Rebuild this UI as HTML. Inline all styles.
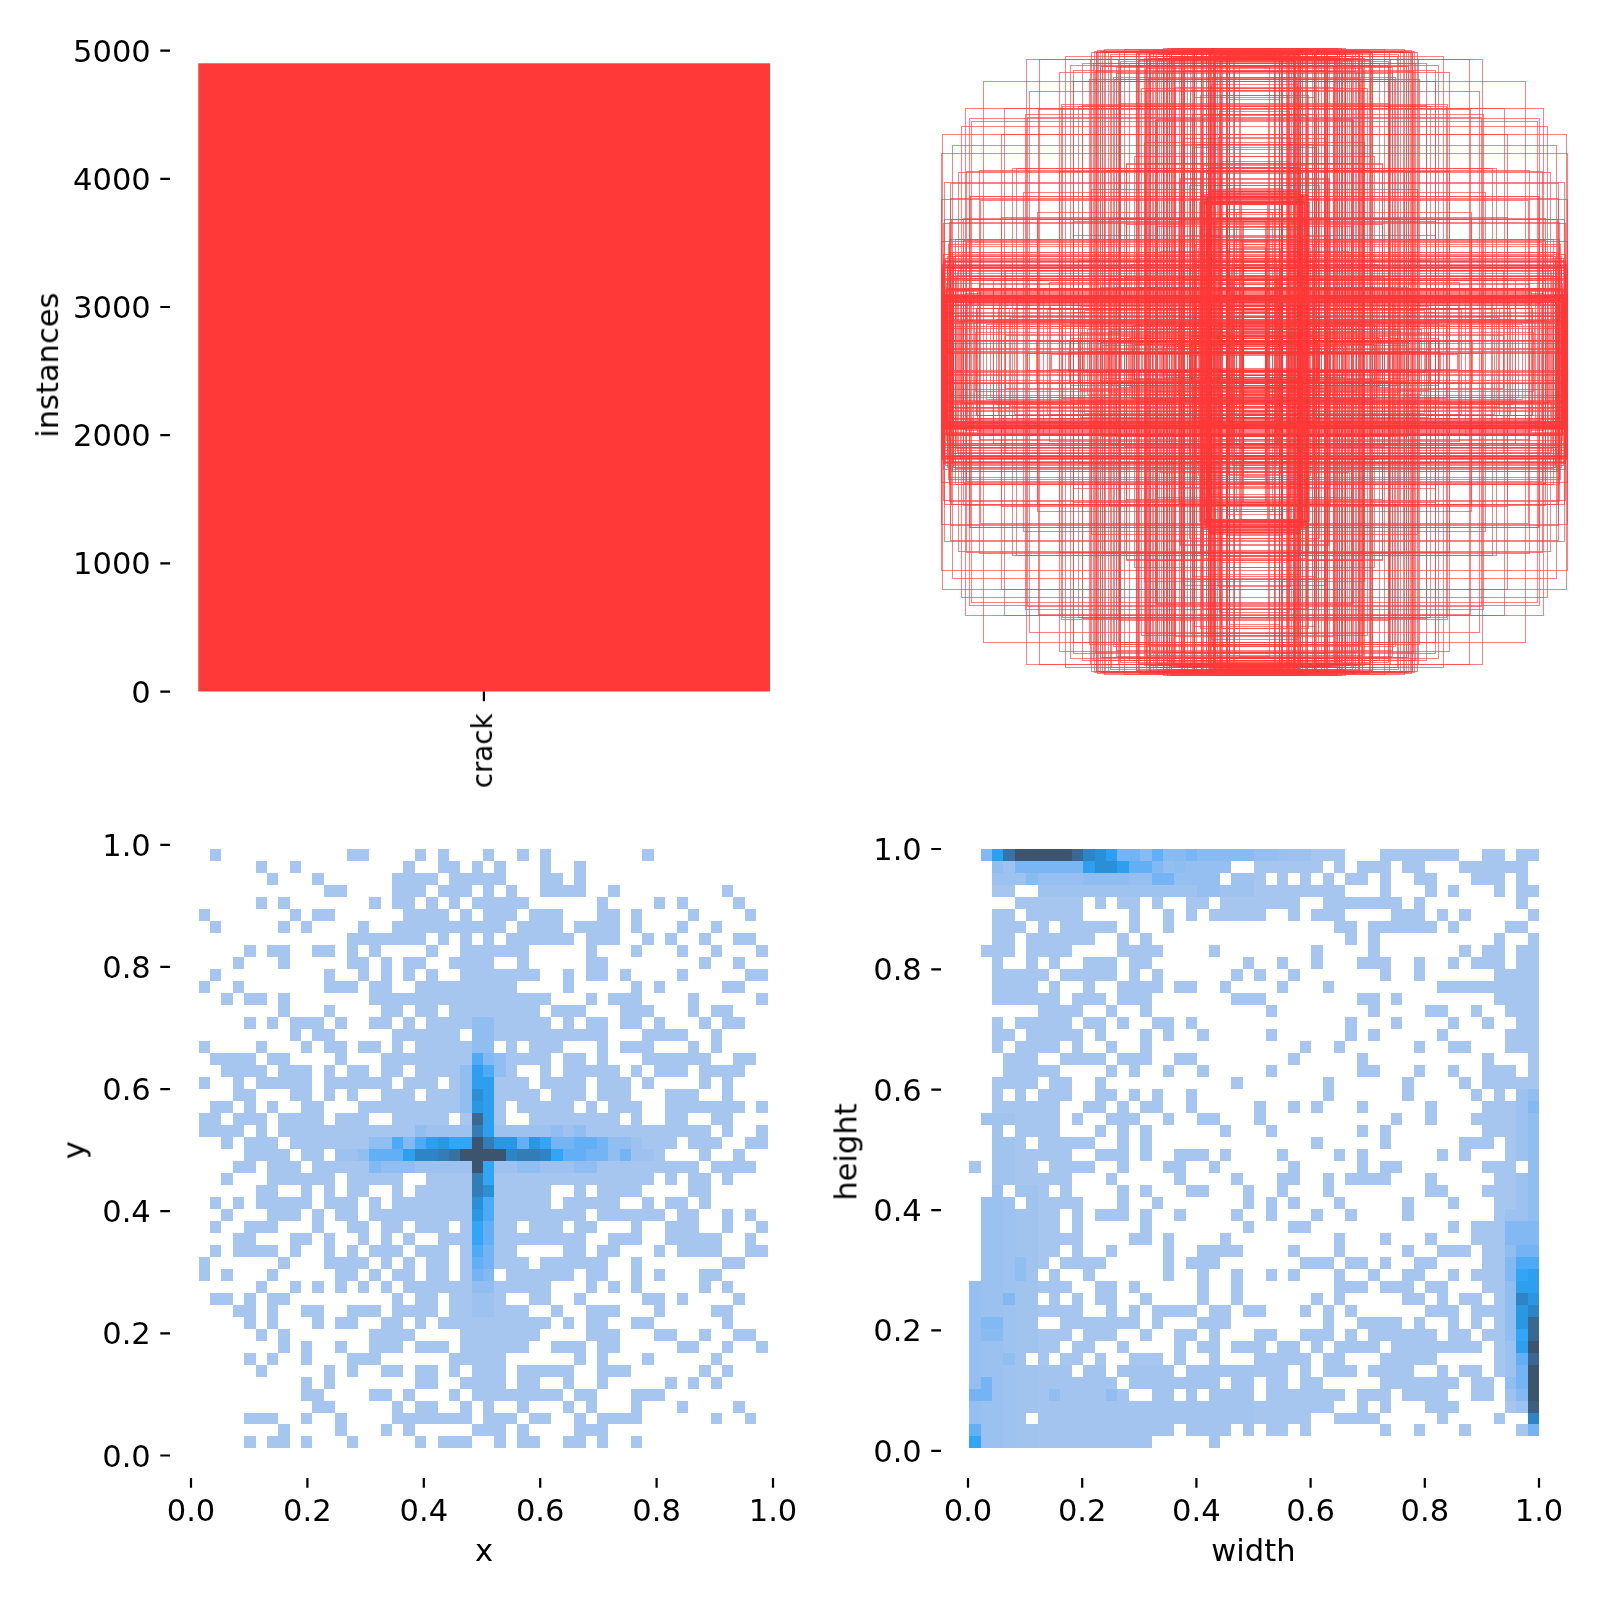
<!DOCTYPE html>
<html lang="en"><head><meta charset="utf-8"><title>labels</title>
<style>
html,body{margin:0;padding:0;background:#fff;}
svg{display:block;}
text{font-family:"DejaVu Sans","Liberation Sans",sans-serif;font-size:30.56px;fill:#000;}
</style></head><body>
<svg width="1600" height="1600" viewBox="0 0 1600 1600">
<rect x="0" y="0" width="1600" height="1600" fill="#ffffff"/>
<rect x="198.3" y="63.3" width="571.7" height="628.2" fill="#ff3838"/>
<g opacity="0.999"><text x="150.80" y="702.60" text-anchor="end">0</text>
<text x="150.80" y="574.40" text-anchor="end">1000</text>
<text x="150.80" y="446.20" text-anchor="end">2000</text>
<text x="150.80" y="318.00" text-anchor="end">3000</text>
<text x="150.80" y="189.80" text-anchor="end">4000</text>
<text x="150.80" y="61.60" text-anchor="end">5000</text>
<text x="58.30" y="365.20" text-anchor="middle" transform="rotate(-90 58.30 365.20)">instances</text>
<text x="491.90" y="750.80" text-anchor="middle" transform="rotate(-90 491.90 750.80)" style="font-size:27.78px">crack</text>
<text x="150.80" y="1466.60" text-anchor="end">0.0</text>
<text x="191.00" y="1520.80" text-anchor="middle">0.0</text>
<text x="150.80" y="1344.46" text-anchor="end">0.2</text>
<text x="307.40" y="1520.80" text-anchor="middle">0.2</text>
<text x="150.80" y="1222.32" text-anchor="end">0.4</text>
<text x="423.80" y="1520.80" text-anchor="middle">0.4</text>
<text x="150.80" y="1100.18" text-anchor="end">0.6</text>
<text x="540.20" y="1520.80" text-anchor="middle">0.6</text>
<text x="150.80" y="978.04" text-anchor="end">0.8</text>
<text x="656.60" y="1520.80" text-anchor="middle">0.8</text>
<text x="150.80" y="855.90" text-anchor="end">1.0</text>
<text x="773.00" y="1520.80" text-anchor="middle">1.0</text>
<text x="484.00" y="1560.60" text-anchor="middle">x</text>
<text x="84.60" y="1150.10" text-anchor="middle" transform="rotate(-90 84.60 1150.10)">y</text>
<text x="921.80" y="1461.80" text-anchor="end">0.0</text>
<text x="968.00" y="1520.80" text-anchor="middle">0.0</text>
<text x="921.80" y="1341.44" text-anchor="end">0.2</text>
<text x="1082.20" y="1520.80" text-anchor="middle">0.2</text>
<text x="921.80" y="1221.08" text-anchor="end">0.4</text>
<text x="1196.40" y="1520.80" text-anchor="middle">0.4</text>
<text x="921.80" y="1100.72" text-anchor="end">0.6</text>
<text x="1310.60" y="1520.80" text-anchor="middle">0.6</text>
<text x="921.80" y="980.36" text-anchor="end">0.8</text>
<text x="1424.80" y="1520.80" text-anchor="middle">0.8</text>
<text x="921.80" y="860.00" text-anchor="end">1.0</text>
<text x="1539.00" y="1520.80" text-anchor="middle">1.0</text>
<text x="1253.40" y="1560.80" text-anchor="middle">width</text>
<text x="856.40" y="1152.00" text-anchor="middle" transform="rotate(-90 856.40 1152.00)">height</text></g>
<path d="M160.3 691.60H170M160.3 563.40H170M160.3 435.20H170M160.3 307.00H170M160.3 178.80H170M160.3 50.60H170M483.9 691.5V701.2M160.3 1455.50H170M191.00 1478V1487.8M160.3 1333.36H170M307.40 1478V1487.8M160.3 1211.22H170M423.80 1478V1487.8M160.3 1089.08H170M540.20 1478V1487.8M160.3 966.94H170M656.60 1478V1487.8M160.3 844.80H170M773.00 1478V1487.8M931.3 1450.80H941M968.00 1478V1487.8M931.3 1330.44H941M1082.20 1478V1487.8M931.3 1210.08H941M1196.40 1478V1487.8M931.3 1089.72H941M1310.60 1478V1487.8M931.3 969.36H941M1424.80 1478V1487.8M931.3 849.00H941M1539.00 1478V1487.8" stroke="#000" stroke-width="2.2" fill="none"/>
<g shape-rendering="crispEdges">
<path fill="#a6c6ef" d="M209.98 849.45H221.36V861.43H209.98ZM346.54 849.45H369.30V861.43H346.54ZM414.82 849.45H426.20V861.43H414.82ZM437.58 849.45H448.96V861.43H437.58ZM483.10 849.45H494.48V861.43H483.10ZM517.24 849.45H528.62V861.43H517.24ZM540.00 849.45H551.38V861.43H540.00ZM642.42 849.45H653.80V861.43H642.42ZM255.50 861.43H266.88V873.41H255.50ZM289.64 861.43H301.02V873.41H289.64ZM403.44 861.43H414.82V873.41H403.44ZM437.58 861.43H460.34V873.41H437.58ZM471.72 861.43H483.10V873.41H471.72ZM494.48 861.43H505.86V873.41H494.48ZM540.00 861.43H551.38V873.41H540.00ZM574.14 861.43H585.52V873.41H574.14ZM266.88 873.41H278.26V885.39H266.88ZM312.40 873.41H323.78V885.39H312.40ZM392.06 873.41H437.58V885.39H392.06ZM448.96 873.41H505.86V885.39H448.96ZM540.00 873.41H562.76V885.39H540.00ZM574.14 873.41H585.52V885.39H574.14ZM323.78 885.39H346.54V897.37H323.78ZM392.06 885.39H426.20V897.37H392.06ZM437.58 885.39H471.72V897.37H437.58ZM483.10 885.39H494.48V897.37H483.10ZM505.86 885.39H517.24V897.37H505.86ZM540.00 885.39H585.52V897.37H540.00ZM608.28 885.39H619.66V897.37H608.28ZM722.08 885.39H733.46V897.37H722.08ZM255.50 897.37H266.88V909.35H255.50ZM278.26 897.37H289.64V909.35H278.26ZM369.30 897.37H380.68V909.35H369.30ZM392.06 897.37H414.82V909.35H392.06ZM426.20 897.37H437.58V909.35H426.20ZM448.96 897.37H460.34V909.35H448.96ZM471.72 897.37H528.62V909.35H471.72ZM596.90 897.37H608.28V909.35H596.90ZM653.80 897.37H665.18V909.35H653.80ZM676.56 897.37H687.94V909.35H676.56ZM733.46 897.37H744.84V909.35H733.46ZM198.60 909.35H209.98V921.33H198.60ZM289.64 909.35H301.02V921.33H289.64ZM312.40 909.35H335.16V921.33H312.40ZM403.44 909.35H448.96V921.33H403.44ZM460.34 909.35H471.72V921.33H460.34ZM483.10 909.35H517.24V921.33H483.10ZM528.62 909.35H562.76V921.33H528.62ZM596.90 909.35H619.66V921.33H596.90ZM631.04 909.35H642.42V921.33H631.04ZM687.94 909.35H699.32V921.33H687.94ZM744.84 909.35H756.22V921.33H744.84ZM209.98 921.33H221.36V933.31H209.98ZM278.26 921.33H289.64V933.31H278.26ZM301.02 921.33H312.40V933.31H301.02ZM357.92 921.33H369.30V933.31H357.92ZM392.06 921.33H505.86V933.31H392.06ZM517.24 921.33H562.76V933.31H517.24ZM574.14 921.33H619.66V933.31H574.14ZM631.04 921.33H642.42V933.31H631.04ZM676.56 921.33H687.94V933.31H676.56ZM710.70 921.33H722.08V933.31H710.70ZM346.54 933.31H426.20V945.29H346.54ZM437.58 933.31H448.96V945.29H437.58ZM460.34 933.31H471.72V945.29H460.34ZM483.10 933.31H494.48V945.29H483.10ZM505.86 933.31H574.14V945.29H505.86ZM585.52 933.31H619.66V945.29H585.52ZM642.42 933.31H653.80V945.29H642.42ZM665.18 933.31H676.56V945.29H665.18ZM699.32 933.31H710.70V945.29H699.32ZM733.46 933.31H756.22V945.29H733.46ZM244.12 945.29H255.50V957.27H244.12ZM266.88 945.29H289.64V957.27H266.88ZM312.40 945.29H335.16V957.27H312.40ZM346.54 945.29H357.92V957.27H346.54ZM369.30 945.29H380.68V957.27H369.30ZM426.20 945.29H437.58V957.27H426.20ZM460.34 945.29H528.62V957.27H460.34ZM585.52 945.29H596.90V957.27H585.52ZM631.04 945.29H642.42V957.27H631.04ZM676.56 945.29H687.94V957.27H676.56ZM710.70 945.29H722.08V957.27H710.70ZM756.22 945.29H767.60V957.27H756.22ZM232.74 957.27H244.12V969.25H232.74ZM278.26 957.27H289.64V969.25H278.26ZM346.54 957.27H369.30V969.25H346.54ZM380.68 957.27H392.06V969.25H380.68ZM403.44 957.27H426.20V969.25H403.44ZM448.96 957.27H494.48V969.25H448.96ZM517.24 957.27H528.62V969.25H517.24ZM585.52 957.27H608.28V969.25H585.52ZM699.32 957.27H710.70V969.25H699.32ZM733.46 957.27H744.84V969.25H733.46ZM209.98 969.25H221.36V981.23H209.98ZM323.78 969.25H335.16V981.23H323.78ZM357.92 969.25H369.30V981.23H357.92ZM380.68 969.25H392.06V981.23H380.68ZM403.44 969.25H414.82V981.23H403.44ZM426.20 969.25H437.58V981.23H426.20ZM460.34 969.25H540.00V981.23H460.34ZM562.76 969.25H574.14V981.23H562.76ZM585.52 969.25H608.28V981.23H585.52ZM619.66 969.25H631.04V981.23H619.66ZM676.56 969.25H687.94V981.23H676.56ZM744.84 969.25H767.60V981.23H744.84ZM198.60 981.23H209.98V993.21H198.60ZM232.74 981.23H244.12V993.21H232.74ZM323.78 981.23H357.92V993.21H323.78ZM369.30 981.23H392.06V993.21H369.30ZM414.82 981.23H517.24V993.21H414.82ZM562.76 981.23H574.14V993.21H562.76ZM631.04 981.23H642.42V993.21H631.04ZM653.80 981.23H665.18V993.21H653.80ZM722.08 981.23H744.84V993.21H722.08ZM221.36 993.21H232.74V1005.19H221.36ZM244.12 993.21H266.88V1005.19H244.12ZM278.26 993.21H289.64V1005.19H278.26ZM369.30 993.21H551.38V1005.19H369.30ZM585.52 993.21H596.90V1005.19H585.52ZM608.28 993.21H642.42V1005.19H608.28ZM687.94 993.21H699.32V1005.19H687.94ZM756.22 993.21H767.60V1005.19H756.22ZM278.26 1005.19H289.64V1017.17H278.26ZM323.78 1005.19H335.16V1017.17H323.78ZM380.68 1005.19H403.44V1017.17H380.68ZM414.82 1005.19H437.58V1017.17H414.82ZM448.96 1005.19H540.00V1017.17H448.96ZM551.38 1005.19H585.52V1017.17H551.38ZM619.66 1005.19H653.80V1017.17H619.66ZM687.94 1005.19H699.32V1017.17H687.94ZM710.70 1005.19H733.46V1017.17H710.70ZM244.12 1017.17H255.50V1029.15H244.12ZM266.88 1017.17H278.26V1029.15H266.88ZM289.64 1017.17H323.78V1029.15H289.64ZM335.16 1017.17H346.54V1029.15H335.16ZM369.30 1017.17H392.06V1029.15H369.30ZM403.44 1017.17H414.82V1029.15H403.44ZM426.20 1017.17H471.72V1029.15H426.20ZM494.48 1017.17H551.38V1029.15H494.48ZM562.76 1017.17H574.14V1029.15H562.76ZM585.52 1017.17H608.28V1029.15H585.52ZM619.66 1017.17H642.42V1029.15H619.66ZM653.80 1017.17H665.18V1029.15H653.80ZM699.32 1017.17H710.70V1029.15H699.32ZM722.08 1017.17H744.84V1029.15H722.08ZM289.64 1029.15H301.02V1041.13H289.64ZM312.40 1029.15H335.16V1041.13H312.40ZM392.06 1029.15H460.34V1041.13H392.06ZM494.48 1029.15H608.28V1041.13H494.48ZM642.42 1029.15H687.94V1041.13H642.42ZM710.70 1029.15H722.08V1041.13H710.70ZM198.60 1041.13H209.98V1053.11H198.60ZM255.50 1041.13H266.88V1053.11H255.50ZM301.02 1041.13H312.40V1053.11H301.02ZM323.78 1041.13H346.54V1053.11H323.78ZM357.92 1041.13H380.68V1053.11H357.92ZM392.06 1041.13H403.44V1053.11H392.06ZM414.82 1041.13H471.72V1053.11H414.82ZM505.86 1041.13H517.24V1053.11H505.86ZM528.62 1041.13H562.76V1053.11H528.62ZM596.90 1041.13H608.28V1053.11H596.90ZM619.66 1041.13H653.80V1053.11H619.66ZM687.94 1041.13H699.32V1053.11H687.94ZM710.70 1041.13H722.08V1053.11H710.70ZM209.98 1053.11H255.50V1065.09H209.98ZM266.88 1053.11H289.64V1065.09H266.88ZM335.16 1053.11H346.54V1065.09H335.16ZM380.68 1053.11H471.72V1065.09H380.68ZM505.86 1053.11H551.38V1065.09H505.86ZM562.76 1053.11H585.52V1065.09H562.76ZM596.90 1053.11H608.28V1065.09H596.90ZM642.42 1053.11H710.70V1065.09H642.42ZM733.46 1053.11H756.22V1065.09H733.46ZM221.36 1065.09H266.88V1077.07H221.36ZM278.26 1065.09H312.40V1077.07H278.26ZM323.78 1065.09H335.16V1077.07H323.78ZM346.54 1065.09H369.30V1077.07H346.54ZM380.68 1065.09H403.44V1077.07H380.68ZM414.82 1065.09H460.34V1077.07H414.82ZM505.86 1065.09H517.24V1077.07H505.86ZM540.00 1065.09H551.38V1077.07H540.00ZM562.76 1065.09H619.66V1077.07H562.76ZM631.04 1065.09H642.42V1077.07H631.04ZM653.80 1065.09H687.94V1077.07H653.80ZM699.32 1065.09H744.84V1077.07H699.32ZM198.60 1077.07H209.98V1089.05H198.60ZM232.74 1077.07H244.12V1089.05H232.74ZM255.50 1077.07H312.40V1089.05H255.50ZM323.78 1077.07H392.06V1089.05H323.78ZM403.44 1077.07H437.58V1089.05H403.44ZM448.96 1077.07H460.34V1089.05H448.96ZM494.48 1077.07H528.62V1089.05H494.48ZM540.00 1077.07H585.52V1089.05H540.00ZM596.90 1077.07H631.04V1089.05H596.90ZM642.42 1077.07H653.80V1089.05H642.42ZM699.32 1077.07H710.70V1089.05H699.32ZM722.08 1077.07H733.46V1089.05H722.08ZM232.74 1089.05H255.50V1101.03H232.74ZM289.64 1089.05H312.40V1101.03H289.64ZM323.78 1089.05H335.16V1101.03H323.78ZM346.54 1089.05H357.92V1101.03H346.54ZM380.68 1089.05H414.82V1101.03H380.68ZM426.20 1089.05H460.34V1101.03H426.20ZM494.48 1089.05H540.00V1101.03H494.48ZM551.38 1089.05H585.52V1101.03H551.38ZM596.90 1089.05H631.04V1101.03H596.90ZM665.18 1089.05H699.32V1101.03H665.18ZM722.08 1089.05H733.46V1101.03H722.08ZM209.98 1101.03H232.74V1113.01H209.98ZM244.12 1101.03H255.50V1113.01H244.12ZM266.88 1101.03H278.26V1113.01H266.88ZM301.02 1101.03H323.78V1113.01H301.02ZM357.92 1101.03H460.34V1113.01H357.92ZM494.48 1101.03H505.86V1113.01H494.48ZM517.24 1101.03H574.14V1113.01H517.24ZM585.52 1101.03H596.90V1113.01H585.52ZM608.28 1101.03H642.42V1113.01H608.28ZM665.18 1101.03H744.84V1113.01H665.18ZM756.22 1101.03H767.60V1113.01H756.22ZM198.60 1113.01H221.36V1124.99H198.60ZM232.74 1113.01H266.88V1124.99H232.74ZM278.26 1113.01H323.78V1124.99H278.26ZM335.16 1113.01H369.30V1124.99H335.16ZM392.06 1113.01H448.96V1124.99H392.06ZM460.34 1113.01H471.72V1124.99H460.34ZM494.48 1113.01H505.86V1124.99H494.48ZM528.62 1113.01H619.66V1124.99H528.62ZM631.04 1113.01H642.42V1124.99H631.04ZM665.18 1113.01H687.94V1124.99H665.18ZM710.70 1113.01H733.46V1124.99H710.70ZM198.60 1124.99H244.12V1136.97H198.60ZM255.50 1124.99H266.88V1136.97H255.50ZM278.26 1124.99H414.82V1136.97H278.26ZM585.52 1124.99H710.70V1136.97H585.52ZM722.08 1124.99H733.46V1136.97H722.08ZM756.22 1124.99H767.60V1136.97H756.22ZM221.36 1136.97H232.74V1148.95H221.36ZM244.12 1136.97H278.26V1148.95H244.12ZM289.64 1136.97H369.30V1148.95H289.64ZM642.42 1136.97H676.56V1148.95H642.42ZM687.94 1136.97H722.08V1148.95H687.94ZM744.84 1136.97H767.60V1148.95H744.84ZM244.12 1148.95H289.64V1160.93H244.12ZM301.02 1148.95H323.78V1160.93H301.02ZM653.80 1148.95H665.18V1160.93H653.80ZM699.32 1148.95H710.70V1160.93H699.32ZM733.46 1148.95H744.84V1160.93H733.46ZM232.74 1160.93H255.50V1172.91H232.74ZM266.88 1160.93H301.02V1172.91H266.88ZM312.40 1160.93H369.30V1172.91H312.40ZM596.90 1160.93H699.32V1172.91H596.90ZM710.70 1160.93H756.22V1172.91H710.70ZM221.36 1172.91H232.74V1184.89H221.36ZM266.88 1172.91H335.16V1184.89H266.88ZM346.54 1172.91H403.44V1184.89H346.54ZM426.20 1172.91H471.72V1184.89H426.20ZM494.48 1172.91H653.80V1184.89H494.48ZM665.18 1172.91H676.56V1184.89H665.18ZM687.94 1172.91H710.70V1184.89H687.94ZM722.08 1172.91H733.46V1184.89H722.08ZM255.50 1184.89H278.26V1196.87H255.50ZM301.02 1184.89H312.40V1196.87H301.02ZM323.78 1184.89H335.16V1196.87H323.78ZM346.54 1184.89H369.30V1196.87H346.54ZM392.06 1184.89H403.44V1196.87H392.06ZM414.82 1184.89H471.72V1196.87H414.82ZM494.48 1184.89H551.38V1196.87H494.48ZM574.14 1184.89H585.52V1196.87H574.14ZM596.90 1184.89H642.42V1196.87H596.90ZM687.94 1184.89H710.70V1196.87H687.94ZM209.98 1196.87H221.36V1208.85H209.98ZM232.74 1196.87H244.12V1208.85H232.74ZM255.50 1196.87H312.40V1208.85H255.50ZM323.78 1196.87H357.92V1208.85H323.78ZM369.30 1196.87H380.68V1208.85H369.30ZM392.06 1196.87H471.72V1208.85H392.06ZM494.48 1196.87H551.38V1208.85H494.48ZM562.76 1196.87H619.66V1208.85H562.76ZM642.42 1196.87H653.80V1208.85H642.42ZM665.18 1196.87H687.94V1208.85H665.18ZM699.32 1196.87H710.70V1208.85H699.32ZM221.36 1208.85H232.74V1220.83H221.36ZM266.88 1208.85H301.02V1220.83H266.88ZM312.40 1208.85H323.78V1220.83H312.40ZM335.16 1208.85H357.92V1220.83H335.16ZM369.30 1208.85H471.72V1220.83H369.30ZM494.48 1208.85H585.52V1220.83H494.48ZM596.90 1208.85H665.18V1220.83H596.90ZM676.56 1208.85H699.32V1220.83H676.56ZM722.08 1208.85H733.46V1220.83H722.08ZM744.84 1208.85H756.22V1220.83H744.84ZM209.98 1220.83H221.36V1232.81H209.98ZM244.12 1220.83H278.26V1232.81H244.12ZM312.40 1220.83H323.78V1232.81H312.40ZM346.54 1220.83H369.30V1232.81H346.54ZM380.68 1220.83H403.44V1232.81H380.68ZM414.82 1220.83H448.96V1232.81H414.82ZM460.34 1220.83H471.72V1232.81H460.34ZM494.48 1220.83H517.24V1232.81H494.48ZM528.62 1220.83H562.76V1232.81H528.62ZM574.14 1220.83H596.90V1232.81H574.14ZM631.04 1220.83H642.42V1232.81H631.04ZM665.18 1220.83H699.32V1232.81H665.18ZM722.08 1220.83H733.46V1232.81H722.08ZM756.22 1220.83H767.60V1232.81H756.22ZM232.74 1232.81H255.50V1244.79H232.74ZM289.64 1232.81H312.40V1244.79H289.64ZM323.78 1232.81H335.16V1244.79H323.78ZM357.92 1232.81H369.30V1244.79H357.92ZM380.68 1232.81H392.06V1244.79H380.68ZM403.44 1232.81H414.82V1244.79H403.44ZM437.58 1232.81H471.72V1244.79H437.58ZM494.48 1232.81H585.52V1244.79H494.48ZM608.28 1232.81H642.42V1244.79H608.28ZM665.18 1232.81H722.08V1244.79H665.18ZM744.84 1232.81H756.22V1244.79H744.84ZM209.98 1244.79H221.36V1256.77H209.98ZM232.74 1244.79H278.26V1256.77H232.74ZM289.64 1244.79H301.02V1256.77H289.64ZM323.78 1244.79H335.16V1256.77H323.78ZM346.54 1244.79H357.92V1256.77H346.54ZM369.30 1244.79H403.44V1256.77H369.30ZM414.82 1244.79H448.96V1256.77H414.82ZM460.34 1244.79H471.72V1256.77H460.34ZM494.48 1244.79H517.24V1256.77H494.48ZM562.76 1244.79H585.52V1256.77H562.76ZM596.90 1244.79H619.66V1256.77H596.90ZM653.80 1244.79H665.18V1256.77H653.80ZM676.56 1244.79H722.08V1256.77H676.56ZM744.84 1244.79H767.60V1256.77H744.84ZM198.60 1256.77H209.98V1268.75H198.60ZM278.26 1256.77H289.64V1268.75H278.26ZM323.78 1256.77H369.30V1268.75H323.78ZM380.68 1256.77H392.06V1268.75H380.68ZM403.44 1256.77H414.82V1268.75H403.44ZM426.20 1256.77H448.96V1268.75H426.20ZM460.34 1256.77H471.72V1268.75H460.34ZM494.48 1256.77H528.62V1268.75H494.48ZM540.00 1256.77H608.28V1268.75H540.00ZM631.04 1256.77H642.42V1268.75H631.04ZM722.08 1256.77H744.84V1268.75H722.08ZM198.60 1268.75H209.98V1280.73H198.60ZM221.36 1268.75H232.74V1280.73H221.36ZM266.88 1268.75H278.26V1280.73H266.88ZM335.16 1268.75H357.92V1280.73H335.16ZM369.30 1268.75H380.68V1280.73H369.30ZM392.06 1268.75H414.82V1280.73H392.06ZM426.20 1268.75H448.96V1280.73H426.20ZM460.34 1268.75H471.72V1280.73H460.34ZM505.86 1268.75H574.14V1280.73H505.86ZM585.52 1268.75H608.28V1280.73H585.52ZM631.04 1268.75H642.42V1280.73H631.04ZM653.80 1268.75H665.18V1280.73H653.80ZM699.32 1268.75H722.08V1280.73H699.32ZM255.50 1280.73H266.88V1292.71H255.50ZM289.64 1280.73H301.02V1292.71H289.64ZM312.40 1280.73H323.78V1292.71H312.40ZM335.16 1280.73H346.54V1292.71H335.16ZM357.92 1280.73H369.30V1292.71H357.92ZM380.68 1280.73H392.06V1292.71H380.68ZM403.44 1280.73H471.72V1292.71H403.44ZM494.48 1280.73H551.38V1292.71H494.48ZM585.52 1280.73H596.90V1292.71H585.52ZM608.28 1280.73H619.66V1292.71H608.28ZM631.04 1280.73H642.42V1292.71H631.04ZM699.32 1280.73H710.70V1292.71H699.32ZM722.08 1280.73H733.46V1292.71H722.08ZM209.98 1292.71H232.74V1304.69H209.98ZM244.12 1292.71H255.50V1304.69H244.12ZM266.88 1292.71H289.64V1304.69H266.88ZM392.06 1292.71H403.44V1304.69H392.06ZM414.82 1292.71H437.58V1304.69H414.82ZM448.96 1292.71H471.72V1304.69H448.96ZM494.48 1292.71H505.86V1304.69H494.48ZM528.62 1292.71H551.38V1304.69H528.62ZM574.14 1292.71H585.52V1304.69H574.14ZM642.42 1292.71H665.18V1304.69H642.42ZM676.56 1292.71H687.94V1304.69H676.56ZM733.46 1292.71H744.84V1304.69H733.46ZM232.74 1304.69H255.50V1316.67H232.74ZM266.88 1304.69H278.26V1316.67H266.88ZM301.02 1304.69H323.78V1316.67H301.02ZM346.54 1304.69H380.68V1316.67H346.54ZM392.06 1304.69H437.58V1316.67H392.06ZM448.96 1304.69H471.72V1316.67H448.96ZM494.48 1304.69H528.62V1316.67H494.48ZM551.38 1304.69H562.76V1316.67H551.38ZM585.52 1304.69H619.66V1316.67H585.52ZM653.80 1304.69H665.18V1316.67H653.80ZM710.70 1304.69H733.46V1316.67H710.70ZM244.12 1316.67H255.50V1328.65H244.12ZM266.88 1316.67H278.26V1328.65H266.88ZM312.40 1316.67H323.78V1328.65H312.40ZM335.16 1316.67H357.92V1328.65H335.16ZM380.68 1316.67H403.44V1328.65H380.68ZM414.82 1316.67H426.20V1328.65H414.82ZM437.58 1316.67H551.38V1328.65H437.58ZM562.76 1316.67H574.14V1328.65H562.76ZM585.52 1316.67H608.28V1328.65H585.52ZM631.04 1316.67H653.80V1328.65H631.04ZM722.08 1316.67H733.46V1328.65H722.08ZM255.50 1328.65H266.88V1340.63H255.50ZM278.26 1328.65H289.64V1340.63H278.26ZM369.30 1328.65H414.82V1340.63H369.30ZM460.34 1328.65H540.00V1340.63H460.34ZM585.52 1328.65H619.66V1340.63H585.52ZM653.80 1328.65H676.56V1340.63H653.80ZM699.32 1328.65H710.70V1340.63H699.32ZM733.46 1328.65H756.22V1340.63H733.46ZM278.26 1340.63H289.64V1352.61H278.26ZM301.02 1340.63H312.40V1352.61H301.02ZM335.16 1340.63H346.54V1352.61H335.16ZM369.30 1340.63H403.44V1352.61H369.30ZM414.82 1340.63H448.96V1352.61H414.82ZM460.34 1340.63H528.62V1352.61H460.34ZM551.38 1340.63H585.52V1352.61H551.38ZM596.90 1340.63H619.66V1352.61H596.90ZM676.56 1340.63H699.32V1352.61H676.56ZM722.08 1340.63H733.46V1352.61H722.08ZM756.22 1340.63H767.60V1352.61H756.22ZM244.12 1352.61H255.50V1364.59H244.12ZM266.88 1352.61H278.26V1364.59H266.88ZM301.02 1352.61H312.40V1364.59H301.02ZM346.54 1352.61H380.68V1364.59H346.54ZM448.96 1352.61H505.86V1364.59H448.96ZM574.14 1352.61H585.52V1364.59H574.14ZM596.90 1352.61H608.28V1364.59H596.90ZM642.42 1352.61H653.80V1364.59H642.42ZM710.70 1352.61H722.08V1364.59H710.70ZM255.50 1364.59H266.88V1376.57H255.50ZM323.78 1364.59H335.16V1376.57H323.78ZM346.54 1364.59H357.92V1376.57H346.54ZM380.68 1364.59H403.44V1376.57H380.68ZM414.82 1364.59H437.58V1376.57H414.82ZM448.96 1364.59H460.34V1376.57H448.96ZM471.72 1364.59H505.86V1376.57H471.72ZM517.24 1364.59H574.14V1376.57H517.24ZM596.90 1364.59H631.04V1376.57H596.90ZM699.32 1364.59H710.70V1376.57H699.32ZM722.08 1364.59H733.46V1376.57H722.08ZM301.02 1376.57H312.40V1388.55H301.02ZM323.78 1376.57H335.16V1388.55H323.78ZM414.82 1376.57H437.58V1388.55H414.82ZM460.34 1376.57H505.86V1388.55H460.34ZM517.24 1376.57H540.00V1388.55H517.24ZM562.76 1376.57H574.14V1388.55H562.76ZM596.90 1376.57H608.28V1388.55H596.90ZM665.18 1376.57H676.56V1388.55H665.18ZM687.94 1376.57H699.32V1388.55H687.94ZM710.70 1376.57H722.08V1388.55H710.70ZM301.02 1388.55H323.78V1400.53H301.02ZM369.30 1388.55H392.06V1400.53H369.30ZM403.44 1388.55H414.82V1400.53H403.44ZM448.96 1388.55H460.34V1400.53H448.96ZM471.72 1388.55H562.76V1400.53H471.72ZM574.14 1388.55H596.90V1400.53H574.14ZM631.04 1388.55H665.18V1400.53H631.04ZM312.40 1400.53H335.16V1412.51H312.40ZM392.06 1400.53H403.44V1412.51H392.06ZM414.82 1400.53H437.58V1412.51H414.82ZM460.34 1400.53H471.72V1412.51H460.34ZM483.10 1400.53H494.48V1412.51H483.10ZM517.24 1400.53H528.62V1412.51H517.24ZM562.76 1400.53H574.14V1412.51H562.76ZM585.52 1400.53H596.90V1412.51H585.52ZM631.04 1400.53H642.42V1412.51H631.04ZM676.56 1400.53H687.94V1412.51H676.56ZM733.46 1400.53H744.84V1412.51H733.46ZM244.12 1412.51H278.26V1424.49H244.12ZM301.02 1412.51H312.40V1424.49H301.02ZM335.16 1412.51H346.54V1424.49H335.16ZM392.06 1412.51H471.72V1424.49H392.06ZM483.10 1412.51H517.24V1424.49H483.10ZM528.62 1412.51H551.38V1424.49H528.62ZM574.14 1412.51H585.52V1424.49H574.14ZM596.90 1412.51H642.42V1424.49H596.90ZM710.70 1412.51H722.08V1424.49H710.70ZM744.84 1412.51H756.22V1424.49H744.84ZM278.26 1424.49H289.64V1436.47H278.26ZM335.16 1424.49H346.54V1436.47H335.16ZM380.68 1424.49H392.06V1436.47H380.68ZM403.44 1424.49H414.82V1436.47H403.44ZM471.72 1424.49H505.86V1436.47H471.72ZM517.24 1424.49H528.62V1436.47H517.24ZM574.14 1424.49H608.28V1436.47H574.14ZM244.12 1436.47H255.50V1448.45H244.12ZM266.88 1436.47H289.64V1448.45H266.88ZM301.02 1436.47H312.40V1448.45H301.02ZM346.54 1436.47H357.92V1448.45H346.54ZM414.82 1436.47H426.20V1448.45H414.82ZM437.58 1436.47H471.72V1448.45H437.58ZM494.48 1436.47H505.86V1448.45H494.48ZM517.24 1436.47H540.00V1448.45H517.24ZM562.76 1436.47H585.52V1448.45H562.76ZM596.90 1436.47H608.28V1448.45H596.90ZM631.04 1436.47H642.42V1448.45H631.04Z"/>
<path fill="#90bef1" d="M471.72 1017.17H494.48V1029.15H471.72ZM471.72 1029.15H494.48V1041.13H471.72ZM471.72 1041.13H494.48V1053.11H471.72ZM494.48 1053.11H505.86V1065.09H494.48ZM460.34 1065.09H471.72V1077.07H460.34ZM494.48 1065.09H505.86V1077.07H494.48ZM460.34 1077.07H471.72V1089.05H460.34ZM460.34 1089.05H471.72V1101.03H460.34ZM460.34 1101.03H471.72V1113.01H460.34ZM414.82 1124.99H426.20V1136.97H414.82ZM551.38 1124.99H562.76V1136.97H551.38ZM574.14 1124.99H585.52V1136.97H574.14ZM369.30 1136.97H392.06V1148.95H369.30ZM608.28 1136.97H631.04V1148.95H608.28ZM357.92 1148.95H369.30V1160.93H357.92ZM608.28 1148.95H619.66V1160.93H608.28ZM380.68 1160.93H414.82V1172.91H380.68ZM517.24 1160.93H540.00V1172.91H517.24ZM574.14 1160.93H596.90V1172.91H574.14ZM471.72 1280.73H494.48V1292.71H471.72Z"/>
<path fill="#4caaf7" d="M471.72 1053.11H483.10V1065.09H471.72ZM483.10 1065.09H494.48V1077.07H483.10ZM392.06 1136.97H403.44V1148.95H392.06ZM414.82 1136.97H426.20V1148.95H414.82ZM483.10 1196.87H494.48V1208.85H483.10ZM483.10 1208.85H494.48V1220.83H483.10ZM471.72 1244.79H483.10V1256.77H471.72Z"/>
<path fill="#83b9f3" d="M483.10 1053.11H494.48V1065.09H483.10ZM403.44 1136.97H414.82V1148.95H403.44ZM369.30 1160.93H380.68V1172.91H369.30ZM483.10 1268.75H494.48V1280.73H483.10Z"/>
<path fill="#2e9fee" d="M471.72 1065.09H483.10V1077.07H471.72ZM471.72 1077.07H494.48V1089.05H471.72ZM483.10 1089.05H494.48V1101.03H483.10ZM483.10 1101.03H494.48V1113.01H483.10ZM483.10 1113.01H494.48V1124.99H483.10ZM483.10 1124.99H494.48V1136.97H483.10ZM426.20 1136.97H437.58V1148.95H426.20ZM403.44 1148.95H414.82V1160.93H403.44Z"/>
<path fill="#2a8fd6" d="M471.72 1089.05H483.10V1101.03H471.72ZM483.10 1184.89H494.48V1196.87H483.10ZM471.72 1196.87H483.10V1208.85H471.72Z"/>
<path fill="#2a97e3" d="M471.72 1101.03H483.10V1113.01H471.72ZM437.58 1136.97H448.96V1148.95H437.58ZM494.48 1136.97H517.24V1148.95H494.48ZM528.62 1136.97H540.00V1148.95H528.62ZM471.72 1208.85H483.10V1220.83H471.72Z"/>
<path fill="#3b6892" d="M471.72 1113.01H483.10V1124.99H471.72Z"/>
<path fill="#9dc2f0" d="M426.20 1124.99H471.72V1136.97H426.20ZM494.48 1124.99H551.38V1136.97H494.48ZM562.76 1124.99H574.14V1136.97H562.76ZM631.04 1136.97H642.42V1148.95H631.04ZM335.16 1148.95H357.92V1160.93H335.16ZM631.04 1148.95H653.80V1160.93H631.04ZM414.82 1160.93H471.72V1172.91H414.82ZM494.48 1160.93H517.24V1172.91H494.48ZM540.00 1160.93H574.14V1172.91H540.00ZM471.72 1292.71H494.48V1304.69H471.72ZM471.72 1304.69H494.48V1316.67H471.72Z"/>
<path fill="#337cb6" d="M471.72 1124.99H483.10V1136.97H471.72ZM483.10 1136.97H494.48V1148.95H483.10ZM437.58 1148.95H448.96V1160.93H437.58ZM517.24 1148.95H540.00V1160.93H517.24ZM471.72 1172.91H483.10V1184.89H471.72ZM471.72 1184.89H483.10V1196.87H471.72Z"/>
<path fill="#33a5f6" d="M448.96 1136.97H471.72V1148.95H448.96ZM540.00 1136.97H551.38V1148.95H540.00ZM551.38 1148.95H562.76V1160.93H551.38ZM483.10 1160.93H494.48V1172.91H483.10ZM483.10 1172.91H494.48V1184.89H483.10ZM471.72 1220.83H483.10V1232.81H471.72ZM471.72 1232.81H483.10V1244.79H471.72Z"/>
<path fill="#3d546e" d="M471.72 1136.97H483.10V1148.95H471.72ZM460.34 1148.95H505.86V1160.93H460.34ZM471.72 1160.93H483.10V1172.91H471.72Z"/>
<path fill="#62aff5" d="M517.24 1136.97H528.62V1148.95H517.24ZM574.14 1136.97H596.90V1148.95H574.14ZM369.30 1148.95H403.44V1160.93H369.30ZM562.76 1148.95H585.52V1160.93H562.76ZM483.10 1220.83H494.48V1232.81H483.10ZM483.10 1232.81H494.48V1244.79H483.10ZM471.72 1256.77H483.10V1268.75H471.72Z"/>
<path fill="#74b4f4" d="M551.38 1136.97H574.14V1148.95H551.38ZM596.90 1136.97H608.28V1148.95H596.90ZM585.52 1148.95H608.28V1160.93H585.52ZM619.66 1148.95H631.04V1160.93H619.66ZM483.10 1244.79H494.48V1256.77H483.10ZM483.10 1256.77H494.48V1268.75H483.10ZM471.72 1268.75H483.10V1280.73H471.72Z"/>
<path fill="#2e85c6" d="M414.82 1148.95H437.58V1160.93H414.82ZM505.86 1148.95H517.24V1160.93H505.86ZM540.00 1148.95H551.38V1160.93H540.00Z"/>
<path fill="#3872a4" d="M448.96 1148.95H460.34V1160.93H448.96Z"/>
<path fill="#83b9f3" d="M980.50 849.45H991.90V861.43H980.50ZM1151.50 861.43H1162.90V873.41H1151.50ZM1527.70 1101.03H1539.10V1113.01H1527.70ZM1504.90 1220.83H1539.10V1232.81H1504.90ZM1504.90 1232.81H1539.10V1244.79H1504.90ZM1504.90 1256.77H1516.30V1268.75H1504.90ZM1504.90 1268.75H1516.30V1280.73H1504.90ZM1003.30 1292.71H1014.70V1304.69H1003.30ZM980.50 1316.67H1003.30V1328.65H980.50ZM1516.30 1388.55H1527.70V1400.53H1516.30Z"/>
<path fill="#2e9fee" d="M991.90 849.45H1003.30V861.43H991.90ZM1105.90 849.45H1117.30V861.43H1105.90ZM1083.10 861.43H1094.50V873.41H1083.10ZM1117.30 861.43H1128.70V873.41H1117.30ZM1527.70 1268.75H1539.10V1280.73H1527.70ZM1516.30 1280.73H1539.10V1292.71H1516.30ZM1516.30 1340.63H1527.70V1352.61H1516.30Z"/>
<path fill="#3872a4" d="M1003.30 849.45H1014.70V861.43H1003.30Z"/>
<path fill="#3d546e" d="M1014.70 849.45H1071.70V861.43H1014.70ZM1527.70 1340.63H1539.10V1352.61H1527.70ZM1527.70 1364.59H1539.10V1376.57H1527.70ZM1527.70 1376.57H1539.10V1388.55H1527.70ZM1527.70 1388.55H1539.10V1400.53H1527.70Z"/>
<path fill="#3b6892" d="M1071.70 849.45H1083.10V861.43H1071.70ZM1527.70 1316.67H1539.10V1328.65H1527.70ZM1527.70 1328.65H1539.10V1340.63H1527.70ZM1527.70 1352.61H1539.10V1364.59H1527.70Z"/>
<path fill="#2e85c6" d="M1083.10 849.45H1094.50V861.43H1083.10ZM1516.30 1292.71H1527.70V1304.69H1516.30ZM1527.70 1304.69H1539.10V1316.67H1527.70ZM1527.70 1412.51H1539.10V1424.49H1527.70Z"/>
<path fill="#2a8fd6" d="M1094.50 849.45H1105.90V861.43H1094.50ZM1094.50 861.43H1117.30V873.41H1094.50Z"/>
<path fill="#74b4f4" d="M1117.30 849.45H1140.10V861.43H1117.30ZM1151.50 873.41H1174.30V885.39H1151.50ZM1516.30 1244.79H1539.10V1256.77H1516.30ZM1516.30 1364.59H1527.70V1376.57H1516.30ZM980.50 1376.57H991.90V1388.55H980.50ZM1516.30 1376.57H1527.70V1388.55H1516.30ZM969.10 1388.55H991.90V1400.53H969.10ZM1527.70 1424.49H1539.10V1436.47H1527.70Z"/>
<path fill="#88bbf2" d="M1140.10 849.45H1151.50V861.43H1140.10ZM1162.90 849.45H1185.70V861.43H1162.90ZM1197.10 849.45H1254.10V861.43H1197.10ZM1026.10 873.41H1037.50V885.39H1026.10ZM980.50 1328.65H1003.30V1340.63H980.50Z"/>
<path fill="#62aff5" d="M1151.50 849.45H1162.90V861.43H1151.50ZM1128.70 861.43H1151.50V873.41H1128.70ZM1516.30 1352.61H1527.70V1364.59H1516.30ZM969.10 1424.49H980.50V1436.47H969.10Z"/>
<path fill="#7ab6f3" d="M1185.70 849.45H1197.10V861.43H1185.70ZM1014.70 861.43H1083.10V873.41H1014.70Z"/>
<path fill="#95bff1" d="M1254.10 849.45H1276.90V861.43H1254.10ZM1162.90 861.43H1174.30V873.41H1162.90ZM1185.70 861.43H1231.30V873.41H1185.70ZM1037.50 873.41H1083.10V885.39H1037.50ZM1128.70 873.41H1151.50V885.39H1128.70ZM1174.30 873.41H1219.90V885.39H1174.30ZM1197.10 885.39H1219.90V897.37H1197.10ZM969.10 1280.73H980.50V1292.71H969.10ZM969.10 1292.71H980.50V1304.69H969.10ZM969.10 1304.69H980.50V1316.67H969.10ZM969.10 1316.67H980.50V1328.65H969.10ZM969.10 1328.65H980.50V1340.63H969.10ZM969.10 1340.63H980.50V1352.61H969.10ZM969.10 1352.61H980.50V1364.59H969.10ZM969.10 1364.59H980.50V1376.57H969.10ZM969.10 1376.57H980.50V1388.55H969.10ZM969.10 1400.53H980.50V1412.51H969.10ZM969.10 1412.51H980.50V1424.49H969.10Z"/>
<path fill="#98c1f0" d="M1276.90 849.45H1288.30V861.43H1276.90Z"/>
<path fill="#9dc2f0" d="M1288.30 849.45H1311.10V861.43H1288.30ZM1003.30 861.43H1014.70V873.41H1003.30ZM991.90 873.41H1026.10V885.39H991.90ZM1516.30 1089.05H1527.70V1101.03H1516.30ZM1516.30 1101.03H1527.70V1113.01H1516.30ZM1516.30 1113.01H1527.70V1124.99H1516.30ZM1516.30 1124.99H1527.70V1136.97H1516.30ZM1516.30 1136.97H1527.70V1148.95H1516.30ZM1516.30 1148.95H1527.70V1160.93H1516.30ZM1516.30 1172.91H1527.70V1184.89H1516.30ZM1516.30 1184.89H1527.70V1196.87H1516.30ZM1516.30 1196.87H1527.70V1208.85H1516.30ZM1504.90 1208.85H1527.70V1220.83H1504.90ZM1504.90 1340.63H1516.30V1352.61H1504.90ZM1504.90 1352.61H1516.30V1364.59H1504.90ZM1504.90 1364.59H1516.30V1376.57H1504.90ZM1504.90 1388.55H1516.30V1400.53H1504.90ZM1516.30 1400.53H1527.70V1412.51H1516.30Z"/>
<path fill="#a6c6ef" d="M1311.10 849.45H1345.30V861.43H1311.10ZM1379.50 849.45H1459.30V861.43H1379.50ZM1482.10 849.45H1504.90V861.43H1482.10ZM1516.30 849.45H1539.10V861.43H1516.30ZM1254.10 861.43H1322.50V873.41H1254.10ZM1333.90 861.43H1345.30V873.41H1333.90ZM1356.70 861.43H1390.90V873.41H1356.70ZM1402.30 861.43H1425.10V873.41H1402.30ZM1459.30 861.43H1527.70V873.41H1459.30ZM1254.10 873.41H1265.50V885.39H1254.10ZM1276.90 873.41H1288.30V885.39H1276.90ZM1299.70 873.41H1311.10V885.39H1299.70ZM1322.50 873.41H1333.90V885.39H1322.50ZM1345.30 873.41H1368.10V885.39H1345.30ZM1379.50 873.41H1390.90V885.39H1379.50ZM1413.70 873.41H1436.50V885.39H1413.70ZM1470.70 873.41H1504.90V885.39H1470.70ZM1516.30 873.41H1527.70V885.39H1516.30ZM991.90 885.39H1014.70V897.37H991.90ZM1254.10 885.39H1345.30V897.37H1254.10ZM1379.50 885.39H1390.90V897.37H1379.50ZM1425.10 885.39H1436.50V897.37H1425.10ZM1447.90 885.39H1459.30V897.37H1447.90ZM1493.50 885.39H1504.90V897.37H1493.50ZM1516.30 885.39H1539.10V897.37H1516.30ZM1014.70 897.37H1083.10V909.35H1014.70ZM1094.50 897.37H1105.90V909.35H1094.50ZM1117.30 897.37H1140.10V909.35H1117.30ZM1151.50 897.37H1162.90V909.35H1151.50ZM1185.70 897.37H1208.50V909.35H1185.70ZM1219.90 897.37H1299.70V909.35H1219.90ZM1322.50 897.37H1402.30V909.35H1322.50ZM1413.70 897.37H1425.10V909.35H1413.70ZM1516.30 897.37H1527.70V909.35H1516.30ZM991.90 909.35H1014.70V921.33H991.90ZM1026.10 909.35H1083.10V921.33H1026.10ZM1128.70 909.35H1140.10V921.33H1128.70ZM1162.90 909.35H1174.30V921.33H1162.90ZM1185.70 909.35H1197.10V921.33H1185.70ZM1208.50 909.35H1265.50V921.33H1208.50ZM1288.30 909.35H1299.70V921.33H1288.30ZM1311.10 909.35H1345.30V921.33H1311.10ZM1390.90 909.35H1425.10V921.33H1390.90ZM1436.50 909.35H1447.90V921.33H1436.50ZM1459.30 909.35H1470.70V921.33H1459.30ZM1527.70 909.35H1539.10V921.33H1527.70ZM991.90 921.33H1026.10V933.31H991.90ZM1037.50 921.33H1048.90V933.31H1037.50ZM1060.30 921.33H1117.30V933.31H1060.30ZM1128.70 921.33H1140.10V933.31H1128.70ZM1162.90 921.33H1174.30V933.31H1162.90ZM1333.90 921.33H1356.70V933.31H1333.90ZM1368.10 921.33H1436.50V933.31H1368.10ZM1447.90 921.33H1459.30V933.31H1447.90ZM1504.90 921.33H1527.70V933.31H1504.90ZM991.90 933.31H1014.70V945.29H991.90ZM1026.10 933.31H1094.50V945.29H1026.10ZM1117.30 933.31H1128.70V945.29H1117.30ZM1140.10 933.31H1151.50V945.29H1140.10ZM1345.30 933.31H1356.70V945.29H1345.30ZM1368.10 933.31H1379.50V945.29H1368.10ZM1493.50 933.31H1504.90V945.29H1493.50ZM1527.70 933.31H1539.10V945.29H1527.70ZM980.50 945.29H1014.70V957.27H980.50ZM1026.10 945.29H1071.70V957.27H1026.10ZM1117.30 945.29H1162.90V957.27H1117.30ZM1208.50 945.29H1219.90V957.27H1208.50ZM1311.10 945.29H1322.50V957.27H1311.10ZM1368.10 945.29H1379.50V957.27H1368.10ZM1459.30 945.29H1470.70V957.27H1459.30ZM1482.10 945.29H1504.90V957.27H1482.10ZM1516.30 945.29H1539.10V957.27H1516.30ZM991.90 957.27H1003.30V969.25H991.90ZM1026.10 957.27H1037.50V969.25H1026.10ZM1048.90 957.27H1060.30V969.25H1048.90ZM1083.10 957.27H1117.30V969.25H1083.10ZM1128.70 957.27H1151.50V969.25H1128.70ZM1242.70 957.27H1254.10V969.25H1242.70ZM1276.90 957.27H1288.30V969.25H1276.90ZM1311.10 957.27H1322.50V969.25H1311.10ZM1356.70 957.27H1390.90V969.25H1356.70ZM1413.70 957.27H1425.10V969.25H1413.70ZM1447.90 957.27H1459.30V969.25H1447.90ZM1470.70 957.27H1504.90V969.25H1470.70ZM1516.30 957.27H1539.10V969.25H1516.30ZM991.90 969.25H1048.90V981.23H991.90ZM1060.30 969.25H1117.30V981.23H1060.30ZM1128.70 969.25H1140.10V981.23H1128.70ZM1151.50 969.25H1162.90V981.23H1151.50ZM1231.30 969.25H1242.70V981.23H1231.30ZM1254.10 969.25H1265.50V981.23H1254.10ZM1288.30 969.25H1299.70V981.23H1288.30ZM1379.50 969.25H1390.90V981.23H1379.50ZM1413.70 969.25H1425.10V981.23H1413.70ZM1493.50 969.25H1539.10V981.23H1493.50ZM991.90 981.23H1037.50V993.21H991.90ZM1048.90 981.23H1060.30V993.21H1048.90ZM1083.10 981.23H1094.50V993.21H1083.10ZM1117.30 981.23H1162.90V993.21H1117.30ZM1174.30 981.23H1197.10V993.21H1174.30ZM1219.90 981.23H1231.30V993.21H1219.90ZM1276.90 981.23H1288.30V993.21H1276.90ZM1322.50 981.23H1333.90V993.21H1322.50ZM1436.50 981.23H1539.10V993.21H1436.50ZM991.90 993.21H1060.30V1005.19H991.90ZM1071.70 993.21H1105.90V1005.19H1071.70ZM1117.30 993.21H1151.50V1005.19H1117.30ZM1231.30 993.21H1265.50V1005.19H1231.30ZM1356.70 993.21H1379.50V1005.19H1356.70ZM1390.90 993.21H1402.30V1005.19H1390.90ZM1493.50 993.21H1539.10V1005.19H1493.50ZM1037.50 1005.19H1083.10V1017.17H1037.50ZM1105.90 1005.19H1117.30V1017.17H1105.90ZM1140.10 1005.19H1151.50V1017.17H1140.10ZM1265.50 1005.19H1276.90V1017.17H1265.50ZM1368.10 1005.19H1379.50V1017.17H1368.10ZM1425.10 1005.19H1447.90V1017.17H1425.10ZM1470.70 1005.19H1482.10V1017.17H1470.70ZM1504.90 1005.19H1539.10V1017.17H1504.90ZM991.90 1017.17H1003.30V1029.15H991.90ZM1014.70 1017.17H1071.70V1029.15H1014.70ZM1083.10 1017.17H1105.90V1029.15H1083.10ZM1117.30 1017.17H1128.70V1029.15H1117.30ZM1151.50 1017.17H1174.30V1029.15H1151.50ZM1185.70 1017.17H1197.10V1029.15H1185.70ZM1345.30 1017.17H1356.70V1029.15H1345.30ZM1390.90 1017.17H1402.30V1029.15H1390.90ZM1447.90 1017.17H1459.30V1029.15H1447.90ZM1482.10 1017.17H1493.50V1029.15H1482.10ZM1516.30 1017.17H1539.10V1029.15H1516.30ZM991.90 1029.15H1014.70V1041.13H991.90ZM1026.10 1029.15H1083.10V1041.13H1026.10ZM1094.50 1029.15H1105.90V1041.13H1094.50ZM1140.10 1029.15H1151.50V1041.13H1140.10ZM1162.90 1029.15H1174.30V1041.13H1162.90ZM1197.10 1029.15H1208.50V1041.13H1197.10ZM1265.50 1029.15H1276.90V1041.13H1265.50ZM1345.30 1029.15H1356.70V1041.13H1345.30ZM1368.10 1029.15H1379.50V1041.13H1368.10ZM1436.50 1029.15H1447.90V1041.13H1436.50ZM1504.90 1029.15H1539.10V1041.13H1504.90ZM991.90 1041.13H1003.30V1053.11H991.90ZM1014.70 1041.13H1060.30V1053.11H1014.70ZM1071.70 1041.13H1083.10V1053.11H1071.70ZM1105.90 1041.13H1117.30V1053.11H1105.90ZM1140.10 1041.13H1151.50V1053.11H1140.10ZM1299.70 1041.13H1311.10V1053.11H1299.70ZM1333.90 1041.13H1345.30V1053.11H1333.90ZM1413.70 1041.13H1425.10V1053.11H1413.70ZM1447.90 1041.13H1470.70V1053.11H1447.90ZM1504.90 1041.13H1539.10V1053.11H1504.90ZM1003.30 1053.11H1037.50V1065.09H1003.30ZM1060.30 1053.11H1105.90V1065.09H1060.30ZM1117.30 1053.11H1151.50V1065.09H1117.30ZM1174.30 1053.11H1197.10V1065.09H1174.30ZM1288.30 1053.11H1299.70V1065.09H1288.30ZM1356.70 1053.11H1368.10V1065.09H1356.70ZM1482.10 1053.11H1493.50V1065.09H1482.10ZM1527.70 1053.11H1539.10V1065.09H1527.70ZM1003.30 1065.09H1060.30V1077.07H1003.30ZM1105.90 1065.09H1117.30V1077.07H1105.90ZM1128.70 1065.09H1140.10V1077.07H1128.70ZM1162.90 1065.09H1174.30V1077.07H1162.90ZM1197.10 1065.09H1208.50V1077.07H1197.10ZM1265.50 1065.09H1276.90V1077.07H1265.50ZM1356.70 1065.09H1379.50V1077.07H1356.70ZM1413.70 1065.09H1425.10V1077.07H1413.70ZM1447.90 1065.09H1459.30V1077.07H1447.90ZM1482.10 1065.09H1516.30V1077.07H1482.10ZM1527.70 1065.09H1539.10V1077.07H1527.70ZM991.90 1077.07H1037.50V1089.05H991.90ZM1048.90 1077.07H1071.70V1089.05H1048.90ZM1094.50 1077.07H1105.90V1089.05H1094.50ZM1231.30 1077.07H1242.70V1089.05H1231.30ZM1322.50 1077.07H1333.90V1089.05H1322.50ZM1402.30 1077.07H1413.70V1089.05H1402.30ZM1459.30 1077.07H1470.70V1089.05H1459.30ZM1482.10 1077.07H1539.10V1089.05H1482.10ZM991.90 1089.05H1003.30V1101.03H991.90ZM1014.70 1089.05H1026.10V1101.03H1014.70ZM1037.50 1089.05H1071.70V1101.03H1037.50ZM1094.50 1089.05H1117.30V1101.03H1094.50ZM1128.70 1089.05H1140.10V1101.03H1128.70ZM1151.50 1089.05H1162.90V1101.03H1151.50ZM1185.70 1089.05H1197.10V1101.03H1185.70ZM1322.50 1089.05H1333.90V1101.03H1322.50ZM1402.30 1089.05H1413.70V1101.03H1402.30ZM1470.70 1089.05H1482.10V1101.03H1470.70ZM1493.50 1089.05H1504.90V1101.03H1493.50ZM991.90 1101.03H1060.30V1113.01H991.90ZM1083.10 1101.03H1105.90V1113.01H1083.10ZM1117.30 1101.03H1128.70V1113.01H1117.30ZM1140.10 1101.03H1162.90V1113.01H1140.10ZM1185.70 1101.03H1197.10V1113.01H1185.70ZM1254.10 1101.03H1265.50V1113.01H1254.10ZM1288.30 1101.03H1299.70V1113.01H1288.30ZM1311.10 1101.03H1322.50V1113.01H1311.10ZM1356.70 1101.03H1368.10V1113.01H1356.70ZM1425.10 1101.03H1436.50V1113.01H1425.10ZM1482.10 1101.03H1516.30V1113.01H1482.10ZM1014.70 1113.01H1060.30V1124.99H1014.70ZM1071.70 1113.01H1083.10V1124.99H1071.70ZM1105.90 1113.01H1140.10V1124.99H1105.90ZM1162.90 1113.01H1174.30V1124.99H1162.90ZM1197.10 1113.01H1219.90V1124.99H1197.10ZM1254.10 1113.01H1265.50V1124.99H1254.10ZM1390.90 1113.01H1402.30V1124.99H1390.90ZM1425.10 1113.01H1436.50V1124.99H1425.10ZM1470.70 1113.01H1516.30V1124.99H1470.70ZM1014.70 1124.99H1060.30V1136.97H1014.70ZM1094.50 1124.99H1105.90V1136.97H1094.50ZM1117.30 1124.99H1128.70V1136.97H1117.30ZM1140.10 1124.99H1151.50V1136.97H1140.10ZM1219.90 1124.99H1231.30V1136.97H1219.90ZM1265.50 1124.99H1276.90V1136.97H1265.50ZM1356.70 1124.99H1368.10V1136.97H1356.70ZM1379.50 1124.99H1390.90V1136.97H1379.50ZM1482.10 1124.99H1516.30V1136.97H1482.10ZM1014.70 1136.97H1026.10V1148.95H1014.70ZM1037.50 1136.97H1094.50V1148.95H1037.50ZM1117.30 1136.97H1128.70V1148.95H1117.30ZM1140.10 1136.97H1151.50V1148.95H1140.10ZM1311.10 1136.97H1322.50V1148.95H1311.10ZM1379.50 1136.97H1390.90V1148.95H1379.50ZM1459.30 1136.97H1493.50V1148.95H1459.30ZM1504.90 1136.97H1516.30V1148.95H1504.90ZM1014.70 1148.95H1071.70V1160.93H1014.70ZM1094.50 1148.95H1128.70V1160.93H1094.50ZM1140.10 1148.95H1151.50V1160.93H1140.10ZM1174.30 1148.95H1208.50V1160.93H1174.30ZM1219.90 1148.95H1231.30V1160.93H1219.90ZM1276.90 1148.95H1288.30V1160.93H1276.90ZM1333.90 1148.95H1345.30V1160.93H1333.90ZM1356.70 1148.95H1368.10V1160.93H1356.70ZM1436.50 1148.95H1447.90V1160.93H1436.50ZM1459.30 1148.95H1470.70V1160.93H1459.30ZM1504.90 1148.95H1516.30V1160.93H1504.90ZM969.10 1160.93H980.50V1172.91H969.10ZM1014.70 1160.93H1037.50V1172.91H1014.70ZM1048.90 1160.93H1094.50V1172.91H1048.90ZM1117.30 1160.93H1128.70V1172.91H1117.30ZM1162.90 1160.93H1185.70V1172.91H1162.90ZM1208.50 1160.93H1219.90V1172.91H1208.50ZM1288.30 1160.93H1299.70V1172.91H1288.30ZM1356.70 1160.93H1368.10V1172.91H1356.70ZM1379.50 1160.93H1402.30V1172.91H1379.50ZM1482.10 1160.93H1516.30V1172.91H1482.10ZM1014.70 1172.91H1071.70V1184.89H1014.70ZM1105.90 1172.91H1117.30V1184.89H1105.90ZM1174.30 1172.91H1185.70V1184.89H1174.30ZM1231.30 1172.91H1242.70V1184.89H1231.30ZM1276.90 1172.91H1299.70V1184.89H1276.90ZM1322.50 1172.91H1333.90V1184.89H1322.50ZM1345.30 1172.91H1390.90V1184.89H1345.30ZM1425.10 1172.91H1436.50V1184.89H1425.10ZM1493.50 1172.91H1516.30V1184.89H1493.50ZM1037.50 1184.89H1048.90V1196.87H1037.50ZM1060.30 1184.89H1071.70V1196.87H1060.30ZM1117.30 1184.89H1128.70V1196.87H1117.30ZM1140.10 1184.89H1151.50V1196.87H1140.10ZM1185.70 1184.89H1208.50V1196.87H1185.70ZM1242.70 1184.89H1254.10V1196.87H1242.70ZM1276.90 1184.89H1288.30V1196.87H1276.90ZM1322.50 1184.89H1333.90V1196.87H1322.50ZM1425.10 1184.89H1447.90V1196.87H1425.10ZM1482.10 1184.89H1516.30V1196.87H1482.10ZM1037.50 1196.87H1083.10V1208.85H1037.50ZM1117.30 1196.87H1128.70V1208.85H1117.30ZM1151.50 1196.87H1162.90V1208.85H1151.50ZM1242.70 1196.87H1254.10V1208.85H1242.70ZM1265.50 1196.87H1276.90V1208.85H1265.50ZM1288.30 1196.87H1299.70V1208.85H1288.30ZM1333.90 1196.87H1345.30V1208.85H1333.90ZM1402.30 1196.87H1413.70V1208.85H1402.30ZM1447.90 1196.87H1459.30V1208.85H1447.90ZM1493.50 1196.87H1516.30V1208.85H1493.50ZM1037.50 1208.85H1060.30V1220.83H1037.50ZM1071.70 1208.85H1083.10V1220.83H1071.70ZM1094.50 1208.85H1128.70V1220.83H1094.50ZM1140.10 1208.85H1151.50V1220.83H1140.10ZM1174.30 1208.85H1185.70V1220.83H1174.30ZM1231.30 1208.85H1242.70V1220.83H1231.30ZM1265.50 1208.85H1276.90V1220.83H1265.50ZM1311.10 1208.85H1322.50V1220.83H1311.10ZM1345.30 1208.85H1356.70V1220.83H1345.30ZM1402.30 1208.85H1413.70V1220.83H1402.30ZM1493.50 1208.85H1504.90V1220.83H1493.50ZM1037.50 1220.83H1060.30V1232.81H1037.50ZM1071.70 1220.83H1083.10V1232.81H1071.70ZM1140.10 1220.83H1151.50V1232.81H1140.10ZM1242.70 1220.83H1254.10V1232.81H1242.70ZM1288.30 1220.83H1311.10V1232.81H1288.30ZM1447.90 1220.83H1459.30V1232.81H1447.90ZM1470.70 1220.83H1504.90V1232.81H1470.70ZM1037.50 1232.81H1083.10V1244.79H1037.50ZM1128.70 1232.81H1151.50V1244.79H1128.70ZM1162.90 1232.81H1174.30V1244.79H1162.90ZM1219.90 1232.81H1231.30V1244.79H1219.90ZM1333.90 1232.81H1345.30V1244.79H1333.90ZM1379.50 1232.81H1390.90V1244.79H1379.50ZM1425.10 1232.81H1436.50V1244.79H1425.10ZM1470.70 1232.81H1504.90V1244.79H1470.70ZM1037.50 1244.79H1060.30V1256.77H1037.50ZM1071.70 1244.79H1083.10V1256.77H1071.70ZM1105.90 1244.79H1117.30V1256.77H1105.90ZM1162.90 1244.79H1174.30V1256.77H1162.90ZM1197.10 1244.79H1242.70V1256.77H1197.10ZM1288.30 1244.79H1299.70V1256.77H1288.30ZM1333.90 1244.79H1345.30V1256.77H1333.90ZM1402.30 1244.79H1413.70V1256.77H1402.30ZM1436.50 1244.79H1470.70V1256.77H1436.50ZM1482.10 1244.79H1504.90V1256.77H1482.10ZM1037.50 1256.77H1048.90V1268.75H1037.50ZM1060.30 1256.77H1105.90V1268.75H1060.30ZM1162.90 1256.77H1174.30V1268.75H1162.90ZM1185.70 1256.77H1219.90V1268.75H1185.70ZM1299.70 1256.77H1333.90V1268.75H1299.70ZM1345.30 1256.77H1368.10V1268.75H1345.30ZM1379.50 1256.77H1390.90V1268.75H1379.50ZM1413.70 1256.77H1436.50V1268.75H1413.70ZM1482.10 1256.77H1504.90V1268.75H1482.10ZM1048.90 1268.75H1060.30V1280.73H1048.90ZM1083.10 1268.75H1094.50V1280.73H1083.10ZM1162.90 1268.75H1174.30V1280.73H1162.90ZM1197.10 1268.75H1208.50V1280.73H1197.10ZM1231.30 1268.75H1242.70V1280.73H1231.30ZM1265.50 1268.75H1276.90V1280.73H1265.50ZM1288.30 1268.75H1299.70V1280.73H1288.30ZM1333.90 1268.75H1345.30V1280.73H1333.90ZM1368.10 1268.75H1379.50V1280.73H1368.10ZM1402.30 1268.75H1425.10V1280.73H1402.30ZM1447.90 1268.75H1459.30V1280.73H1447.90ZM1470.70 1268.75H1504.90V1280.73H1470.70ZM1037.50 1280.73H1071.70V1292.71H1037.50ZM1094.50 1280.73H1117.30V1292.71H1094.50ZM1128.70 1280.73H1140.10V1292.71H1128.70ZM1197.10 1280.73H1208.50V1292.71H1197.10ZM1231.30 1280.73H1242.70V1292.71H1231.30ZM1333.90 1280.73H1368.10V1292.71H1333.90ZM1379.50 1280.73H1413.70V1292.71H1379.50ZM1425.10 1280.73H1447.90V1292.71H1425.10ZM1482.10 1280.73H1504.90V1292.71H1482.10ZM1048.90 1292.71H1060.30V1304.69H1048.90ZM1071.70 1292.71H1083.10V1304.69H1071.70ZM1094.50 1292.71H1117.30V1304.69H1094.50ZM1140.10 1292.71H1151.50V1304.69H1140.10ZM1197.10 1292.71H1208.50V1304.69H1197.10ZM1231.30 1292.71H1242.70V1304.69H1231.30ZM1311.10 1292.71H1322.50V1304.69H1311.10ZM1333.90 1292.71H1345.30V1304.69H1333.90ZM1402.30 1292.71H1425.10V1304.69H1402.30ZM1436.50 1292.71H1447.90V1304.69H1436.50ZM1459.30 1292.71H1482.10V1304.69H1459.30ZM1493.50 1292.71H1504.90V1304.69H1493.50ZM1037.50 1304.69H1083.10V1316.67H1037.50ZM1105.90 1304.69H1117.30V1316.67H1105.90ZM1128.70 1304.69H1140.10V1316.67H1128.70ZM1151.50 1304.69H1197.10V1316.67H1151.50ZM1208.50 1304.69H1231.30V1316.67H1208.50ZM1242.70 1304.69H1265.50V1316.67H1242.70ZM1299.70 1304.69H1311.10V1316.67H1299.70ZM1322.50 1304.69H1333.90V1316.67H1322.50ZM1345.30 1304.69H1356.70V1316.67H1345.30ZM1425.10 1304.69H1459.30V1316.67H1425.10ZM1470.70 1304.69H1504.90V1316.67H1470.70ZM1060.30 1316.67H1140.10V1328.65H1060.30ZM1151.50 1316.67H1162.90V1328.65H1151.50ZM1197.10 1316.67H1231.30V1328.65H1197.10ZM1322.50 1316.67H1333.90V1328.65H1322.50ZM1356.70 1316.67H1402.30V1328.65H1356.70ZM1413.70 1316.67H1425.10V1328.65H1413.70ZM1447.90 1316.67H1459.30V1328.65H1447.90ZM1470.70 1316.67H1482.10V1328.65H1470.70ZM1493.50 1316.67H1504.90V1328.65H1493.50ZM1037.50 1328.65H1071.70V1340.63H1037.50ZM1083.10 1328.65H1117.30V1340.63H1083.10ZM1140.10 1328.65H1151.50V1340.63H1140.10ZM1174.30 1328.65H1197.10V1340.63H1174.30ZM1208.50 1328.65H1219.90V1340.63H1208.50ZM1254.10 1328.65H1276.90V1340.63H1254.10ZM1299.70 1328.65H1333.90V1340.63H1299.70ZM1345.30 1328.65H1356.70V1340.63H1345.30ZM1368.10 1328.65H1436.50V1340.63H1368.10ZM1447.90 1328.65H1470.70V1340.63H1447.90ZM1482.10 1328.65H1504.90V1340.63H1482.10ZM1037.50 1340.63H1060.30V1352.61H1037.50ZM1071.70 1340.63H1094.50V1352.61H1071.70ZM1117.30 1340.63H1128.70V1352.61H1117.30ZM1174.30 1340.63H1185.70V1352.61H1174.30ZM1197.10 1340.63H1219.90V1352.61H1197.10ZM1231.30 1340.63H1265.50V1352.61H1231.30ZM1276.90 1340.63H1299.70V1352.61H1276.90ZM1311.10 1340.63H1322.50V1352.61H1311.10ZM1333.90 1340.63H1379.50V1352.61H1333.90ZM1390.90 1340.63H1482.10V1352.61H1390.90ZM1493.50 1340.63H1504.90V1352.61H1493.50ZM1037.50 1352.61H1048.90V1364.59H1037.50ZM1060.30 1352.61H1083.10V1364.59H1060.30ZM1094.50 1352.61H1105.90V1364.59H1094.50ZM1128.70 1352.61H1162.90V1364.59H1128.70ZM1174.30 1352.61H1185.70V1364.59H1174.30ZM1208.50 1352.61H1219.90V1364.59H1208.50ZM1254.10 1352.61H1311.10V1364.59H1254.10ZM1322.50 1352.61H1345.30V1364.59H1322.50ZM1379.50 1352.61H1436.50V1364.59H1379.50ZM1493.50 1352.61H1504.90V1364.59H1493.50ZM1254.10 1364.59H1288.30V1376.57H1254.10ZM1299.70 1364.59H1311.10V1376.57H1299.70ZM1322.50 1364.59H1356.70V1376.57H1322.50ZM1368.10 1364.59H1413.70V1376.57H1368.10ZM1436.50 1364.59H1447.90V1376.57H1436.50ZM1459.30 1364.59H1482.10V1376.57H1459.30ZM1493.50 1364.59H1504.90V1376.57H1493.50ZM1265.50 1376.57H1288.30V1388.55H1265.50ZM1299.70 1376.57H1322.50V1388.55H1299.70ZM1379.50 1376.57H1459.30V1388.55H1379.50ZM1470.70 1376.57H1493.50V1388.55H1470.70ZM1265.50 1388.55H1345.30V1400.53H1265.50ZM1356.70 1388.55H1390.90V1400.53H1356.70ZM1402.30 1388.55H1447.90V1400.53H1402.30ZM1470.70 1388.55H1493.50V1400.53H1470.70ZM1254.10 1400.53H1333.90V1412.51H1254.10ZM1356.70 1400.53H1368.10V1412.51H1356.70ZM1379.50 1400.53H1390.90V1412.51H1379.50ZM1425.10 1400.53H1459.30V1412.51H1425.10ZM1504.90 1400.53H1516.30V1412.51H1504.90ZM1254.10 1412.51H1311.10V1424.49H1254.10ZM1333.90 1412.51H1379.50V1424.49H1333.90ZM1436.50 1412.51H1447.90V1424.49H1436.50ZM1493.50 1412.51H1504.90V1424.49H1493.50ZM1265.50 1424.49H1288.30V1436.47H1265.50ZM1299.70 1424.49H1311.10V1436.47H1299.70ZM1379.50 1424.49H1390.90V1436.47H1379.50ZM1413.70 1424.49H1425.10V1436.47H1413.70ZM1459.30 1424.49H1470.70V1436.47H1459.30ZM1516.30 1424.49H1527.70V1436.47H1516.30Z"/>
<path fill="#90bef1" d="M991.90 861.43H1003.30V873.41H991.90ZM1527.70 1089.05H1539.10V1101.03H1527.70ZM1527.70 1113.01H1539.10V1124.99H1527.70ZM1527.70 1124.99H1539.10V1136.97H1527.70ZM1527.70 1136.97H1539.10V1148.95H1527.70ZM1527.70 1148.95H1539.10V1160.93H1527.70ZM1527.70 1160.93H1539.10V1172.91H1527.70ZM1527.70 1172.91H1539.10V1184.89H1527.70ZM1527.70 1184.89H1539.10V1196.87H1527.70ZM1527.70 1196.87H1539.10V1208.85H1527.70ZM1527.70 1208.85H1539.10V1220.83H1527.70ZM1504.90 1244.79H1516.30V1256.77H1504.90ZM1014.70 1256.77H1026.10V1268.75H1014.70ZM1014.70 1268.75H1026.10V1280.73H1014.70ZM1504.90 1280.73H1516.30V1292.71H1504.90ZM1504.90 1292.71H1516.30V1304.69H1504.90ZM1504.90 1304.69H1516.30V1316.67H1504.90ZM1504.90 1316.67H1516.30V1328.65H1504.90ZM1504.90 1328.65H1516.30V1340.63H1504.90ZM1003.30 1352.61H1014.70V1364.59H1003.30ZM1504.90 1376.57H1516.30V1388.55H1504.90ZM1048.90 1388.55H1060.30V1400.53H1048.90ZM1105.90 1388.55H1117.30V1400.53H1105.90Z"/>
<path fill="#8ebdf1" d="M1174.30 861.43H1185.70V873.41H1174.30ZM1083.10 873.41H1128.70V885.39H1083.10Z"/>
<path fill="#9fc3ef" d="M1231.30 873.41H1254.10V885.39H1231.30ZM1037.50 885.39H1197.10V897.37H1037.50ZM1219.90 885.39H1254.10V897.37H1219.90Z"/>
<path fill="#a1c4ef" d="M980.50 1113.01H1014.70V1124.99H980.50ZM991.90 1124.99H1003.30V1136.97H991.90ZM991.90 1136.97H1014.70V1148.95H991.90ZM991.90 1148.95H1014.70V1160.93H991.90ZM991.90 1160.93H1014.70V1172.91H991.90ZM991.90 1172.91H1014.70V1184.89H991.90ZM1014.70 1184.89H1037.50V1196.87H1014.70ZM1026.10 1196.87H1037.50V1208.85H1026.10ZM1014.70 1208.85H1037.50V1220.83H1014.70ZM1014.70 1220.83H1037.50V1232.81H1014.70ZM1014.70 1232.81H1037.50V1244.79H1014.70ZM1014.70 1244.79H1037.50V1256.77H1014.70ZM1026.10 1256.77H1037.50V1268.75H1026.10ZM1026.10 1268.75H1037.50V1280.73H1026.10ZM1014.70 1280.73H1037.50V1292.71H1014.70ZM1014.70 1292.71H1037.50V1304.69H1014.70ZM1014.70 1304.69H1037.50V1316.67H1014.70ZM1014.70 1316.67H1037.50V1328.65H1014.70ZM1014.70 1328.65H1037.50V1340.63H1014.70ZM1014.70 1340.63H1037.50V1352.61H1014.70ZM1014.70 1352.61H1026.10V1364.59H1014.70ZM1014.70 1364.59H1037.50V1376.57H1014.70ZM1014.70 1376.57H1037.50V1388.55H1014.70ZM1014.70 1388.55H1037.50V1400.53H1014.70ZM1014.70 1400.53H1037.50V1412.51H1014.70ZM1014.70 1412.51H1026.10V1424.49H1014.70ZM1014.70 1424.49H1037.50V1436.47H1014.70ZM1014.70 1436.47H1037.50V1448.45H1014.70Z"/>
<path fill="#9ac1f0" d="M991.90 1184.89H1003.30V1196.87H991.90ZM980.50 1196.87H1003.30V1208.85H980.50ZM980.50 1208.85H1003.30V1220.83H980.50ZM980.50 1220.83H1003.30V1232.81H980.50ZM980.50 1232.81H1003.30V1244.79H980.50ZM980.50 1244.79H1003.30V1256.77H980.50ZM980.50 1256.77H1003.30V1268.75H980.50ZM980.50 1268.75H1003.30V1280.73H980.50ZM980.50 1280.73H1003.30V1292.71H980.50ZM980.50 1292.71H1003.30V1304.69H980.50ZM980.50 1304.69H1003.30V1316.67H980.50ZM980.50 1340.63H1003.30V1352.61H980.50ZM980.50 1352.61H1003.30V1364.59H980.50ZM980.50 1364.59H1003.30V1376.57H980.50ZM991.90 1376.57H1003.30V1388.55H991.90ZM991.90 1388.55H1003.30V1400.53H991.90ZM980.50 1400.53H1003.30V1412.51H980.50ZM980.50 1412.51H1003.30V1424.49H980.50ZM980.50 1424.49H1003.30V1436.47H980.50ZM980.50 1436.47H1003.30V1448.45H980.50Z"/>
<path fill="#9ec3f0" d="M1003.30 1196.87H1014.70V1208.85H1003.30ZM1003.30 1208.85H1014.70V1220.83H1003.30ZM1003.30 1220.83H1014.70V1232.81H1003.30ZM1003.30 1232.81H1014.70V1244.79H1003.30ZM1003.30 1244.79H1014.70V1256.77H1003.30ZM1003.30 1256.77H1014.70V1268.75H1003.30ZM1003.30 1268.75H1014.70V1280.73H1003.30ZM1003.30 1280.73H1014.70V1292.71H1003.30ZM1003.30 1304.69H1014.70V1316.67H1003.30ZM1003.30 1316.67H1014.70V1328.65H1003.30ZM1003.30 1328.65H1014.70V1340.63H1003.30ZM1003.30 1340.63H1014.70V1352.61H1003.30ZM1003.30 1364.59H1014.70V1376.57H1003.30ZM1003.30 1376.57H1014.70V1388.55H1003.30ZM1003.30 1388.55H1014.70V1400.53H1003.30ZM1003.30 1400.53H1014.70V1412.51H1003.30ZM1003.30 1412.51H1014.70V1424.49H1003.30ZM1003.30 1424.49H1014.70V1436.47H1003.30ZM1003.30 1436.47H1014.70V1448.45H1003.30Z"/>
<path fill="#4caaf7" d="M1516.30 1256.77H1539.10V1268.75H1516.30Z"/>
<path fill="#33a5f6" d="M1516.30 1268.75H1527.70V1280.73H1516.30ZM1516.30 1328.65H1527.70V1340.63H1516.30ZM969.10 1436.47H980.50V1448.45H969.10Z"/>
<path fill="#2a97e3" d="M1527.70 1292.71H1539.10V1304.69H1527.70ZM1516.30 1304.69H1527.70V1316.67H1516.30ZM1516.30 1316.67H1527.70V1328.65H1516.30Z"/>
<path fill="#a2c4ef" d="M1037.50 1364.59H1071.70V1376.57H1037.50ZM1083.10 1364.59H1105.90V1376.57H1083.10ZM1117.30 1364.59H1174.30V1376.57H1117.30ZM1185.70 1364.59H1254.10V1376.57H1185.70ZM1037.50 1376.57H1117.30V1388.55H1037.50ZM1128.70 1376.57H1219.90V1388.55H1128.70ZM1231.30 1376.57H1254.10V1388.55H1231.30ZM1037.50 1388.55H1048.90V1400.53H1037.50ZM1060.30 1388.55H1105.90V1400.53H1060.30ZM1117.30 1388.55H1128.70V1400.53H1117.30ZM1151.50 1388.55H1174.30V1400.53H1151.50ZM1185.70 1388.55H1197.10V1400.53H1185.70ZM1208.50 1388.55H1254.10V1400.53H1208.50ZM1037.50 1400.53H1254.10V1412.51H1037.50ZM1037.50 1412.51H1254.10V1424.49H1037.50ZM1037.50 1424.49H1174.30V1436.47H1037.50ZM1185.70 1424.49H1231.30V1436.47H1185.70ZM1242.70 1424.49H1254.10V1436.47H1242.70ZM1037.50 1436.47H1151.50V1448.45H1037.50ZM1208.50 1436.47H1219.90V1448.45H1208.50Z"/>
<path fill="#3d5e7f" d="M1527.70 1400.53H1539.10V1412.51H1527.70Z"/>
</g>
<g fill="none" stroke="#ff3838" stroke-width="1" stroke-opacity="0.64" shape-rendering="crispEdges"><path d="M1210.5 197.5H1298.5V526.5H1210.5Z"/><path d="M1204.5 204.5H1304.5V519.5H1204.5Z"/><path d="M1209.5 191.5H1299.5V532.5H1209.5Z"/><path d="M1210.5 203.5H1298.5V520.5H1210.5Z"/><path d="M1201.5 195.5H1307.5V528.5H1201.5Z"/><path d="M1207.5 197.5H1301.5V526.5H1207.5Z"/><path d="M1204.5 201.5H1304.5V522.5H1204.5Z"/><path d="M1210.5 193.5H1298.5V530.5H1210.5Z"/><path d="M1204.5 197.5H1304.5V526.5H1204.5Z"/><path d="M1202.5 196.5H1306.5V527.5H1202.5Z"/><path d="M1200.5 202.5H1308.5V521.5H1200.5Z"/><path d="M1205.5 197.5H1303.5V526.5H1205.5Z"/><path d="M1207.5 196.5H1301.5V527.5H1207.5Z"/><path d="M1208.5 193.5H1300.5V530.5H1208.5Z"/><path d="M1202.5 203.5H1306.5V520.5H1202.5Z"/><path d="M1206.5 201.5H1302.5V522.5H1206.5Z"/><path d="M1210.5 191.5H1298.5V532.5H1210.5Z"/><path d="M1206.5 203.5H1302.5V520.5H1206.5Z"/><path d="M1204.5 202.5H1304.5V521.5H1204.5Z"/><path d="M1201.5 201.5H1307.5V522.5H1201.5Z"/><path d="M1211.5 202.5H1297.5V521.5H1211.5Z"/><path d="M1207.5 198.5H1301.5V525.5H1207.5Z"/><path d="M1201.5 194.5H1307.5V529.5H1201.5Z"/><path d="M1207.5 204.5H1301.5V519.5H1207.5Z"/><path d="M1209.5 190.5H1299.5V533.5H1209.5Z"/><path d="M1206.5 194.5H1302.5V529.5H1206.5Z"/><path d="M1210.5 185.5H1298.5V538.5H1210.5Z"/><path d="M1202.5 115.5H1306.5V608.5H1202.5Z"/><path d="M1208.5 149.5H1300.5V574.5H1208.5Z"/><path d="M1210.5 167.5H1298.5V556.5H1210.5Z"/><path d="M1211.5 84.5H1297.5V639.5H1211.5Z"/><path d="M1206.5 173.5H1302.5V550.5H1206.5Z"/><path d="M1203.5 165.5H1305.5V558.5H1203.5Z"/><path d="M1210.5 114.5H1298.5V609.5H1210.5Z"/><path d="M1201.5 48.5H1307.5V675.5H1201.5Z"/><path d="M1202.5 50.5H1306.5V673.5H1202.5Z"/><path d="M1210.5 48.5H1298.5V675.5H1210.5Z"/><path d="M1208.5 55.5H1300.5V668.5H1208.5Z"/><path d="M1206.5 56.5H1302.5V667.5H1206.5Z"/><path d="M1209.5 51.5H1299.5V672.5H1209.5Z"/><path d="M1208.5 57.5H1300.5V666.5H1208.5Z"/><path d="M1201.5 51.5H1307.5V672.5H1201.5Z"/><path d="M1206.5 51.5H1302.5V672.5H1206.5Z"/><path d="M1203.5 48.5H1305.5V675.5H1203.5Z"/><path d="M1210.5 52.5H1298.5V671.5H1210.5Z"/><path d="M1208.5 56.5H1300.5V667.5H1208.5Z"/><path d="M1163.5 58.5H1345.5V665.5H1163.5Z"/><path d="M1164.5 56.5H1344.5V667.5H1164.5Z"/><path d="M1163.5 53.5H1345.5V670.5H1163.5Z"/><path d="M1169.5 57.5H1339.5V666.5H1169.5Z"/><path d="M1169.5 59.5H1339.5V664.5H1169.5Z"/><path d="M1163.5 54.5H1345.5V669.5H1163.5Z"/><path d="M1163.5 63.5H1345.5V660.5H1163.5Z"/><path d="M1167.5 62.5H1341.5V661.5H1167.5Z"/><path d="M1091.5 52.5H1417.5V671.5H1091.5Z"/><path d="M1102.5 51.5H1406.5V672.5H1102.5Z"/><path d="M1104.5 49.5H1404.5V674.5H1104.5Z"/><path d="M1096.5 52.5H1412.5V671.5H1096.5Z"/><path d="M1098.5 52.5H1410.5V671.5H1098.5Z"/><path d="M1096.5 52.5H1412.5V671.5H1096.5Z"/><path d="M1105.5 52.5H1403.5V671.5H1105.5Z"/><path d="M1097.5 50.5H1411.5V673.5H1097.5Z"/><path d="M1243.5 247.5H1265.5V476.5H1243.5Z"/><path d="M1243.5 331.5H1265.5V392.5H1243.5Z"/><path d="M1243.5 288.5H1265.5V435.5H1243.5Z"/><path d="M1241.5 333.5H1267.5V390.5H1241.5Z"/><path d="M1243.5 261.5H1265.5V462.5H1243.5Z"/><path d="M1241.5 204.5H1267.5V519.5H1241.5Z"/><path d="M1242.5 341.5H1266.5V382.5H1242.5Z"/><path d="M1242.5 241.5H1266.5V482.5H1242.5Z"/><path d="M1243.5 276.5H1265.5V447.5H1243.5Z"/><path d="M1243.5 221.5H1265.5V502.5H1243.5Z"/><path d="M1242.5 221.5H1266.5V502.5H1242.5Z"/><path d="M1242.5 309.5H1266.5V414.5H1242.5Z"/><path d="M1242.5 311.5H1266.5V412.5H1242.5Z"/><path d="M1243.5 288.5H1265.5V435.5H1243.5Z"/><path d="M1051.5 354.5H1457.5V369.5H1051.5Z"/><path d="M1027.5 353.5H1481.5V370.5H1027.5Z"/><path d="M1107.5 353.5H1401.5V370.5H1107.5Z"/><path d="M1082.5 352.5H1426.5V371.5H1082.5Z"/><path d="M1096.5 352.5H1412.5V371.5H1096.5Z"/><path d="M943.5 298.5H1565.5V425.5H943.5Z"/><path d="M945.5 298.5H1563.5V425.5H945.5Z"/><path d="M942.5 294.5H1566.5V429.5H942.5Z"/><path d="M941.5 300.5H1567.5V423.5H941.5Z"/><path d="M944.5 302.5H1564.5V421.5H944.5Z"/><path d="M941.5 296.5H1567.5V427.5H941.5Z"/><path d="M945.5 297.5H1563.5V426.5H945.5Z"/><path d="M946.5 296.5H1562.5V427.5H946.5Z"/><path d="M942.5 297.5H1566.5V426.5H942.5Z"/><path d="M943.5 296.5H1565.5V427.5H943.5Z"/><path d="M943.5 301.5H1565.5V422.5H943.5Z"/><path d="M946.5 297.5H1562.5V426.5H946.5Z"/><path d="M945.5 298.5H1563.5V425.5H945.5Z"/><path d="M945.5 299.5H1563.5V424.5H945.5Z"/><path d="M944.5 302.5H1564.5V421.5H944.5Z"/><path d="M944.5 295.5H1564.5V428.5H944.5Z"/><path d="M945.5 296.5H1563.5V427.5H945.5Z"/><path d="M944.5 295.5H1564.5V428.5H944.5Z"/><path d="M941.5 295.5H1567.5V428.5H941.5Z"/><path d="M943.5 302.5H1565.5V421.5H943.5Z"/><path d="M944.5 299.5H1564.5V424.5H944.5Z"/><path d="M943.5 295.5H1565.5V428.5H943.5Z"/><path d="M941.5 297.5H1567.5V426.5H941.5Z"/><path d="M943.5 298.5H1565.5V425.5H943.5Z"/><path d="M944.5 301.5H1564.5V422.5H944.5Z"/><path d="M944.5 295.5H1564.5V428.5H944.5Z"/><path d="M942.5 267.5H1566.5V456.5H942.5Z"/><path d="M941.5 265.5H1567.5V458.5H941.5Z"/><path d="M947.5 267.5H1561.5V456.5H947.5Z"/><path d="M947.5 265.5H1561.5V458.5H947.5Z"/><path d="M941.5 265.5H1567.5V458.5H941.5Z"/><path d="M942.5 264.5H1566.5V459.5H942.5Z"/><path d="M944.5 266.5H1564.5V457.5H944.5Z"/><path d="M1148.5 78.5H1360.5V645.5H1148.5Z"/><path d="M969.5 196.5H1539.5V527.5H969.5Z"/><path d="M1165.5 348.5H1343.5V375.5H1165.5Z"/><path d="M1144.5 142.5H1364.5V581.5H1144.5Z"/><path d="M1196.5 50.5H1312.5V673.5H1196.5Z"/><path d="M999.5 298.5H1509.5V425.5H999.5Z"/><path d="M1213.5 53.5H1295.5V670.5H1213.5Z"/><path d="M1126.5 341.5H1382.5V382.5H1126.5Z"/><path d="M944.5 340.5H1564.5V383.5H944.5Z"/><path d="M952.5 145.5H1556.5V578.5H952.5Z"/><path d="M1149.5 53.5H1359.5V670.5H1149.5Z"/><path d="M1119.5 336.5H1389.5V387.5H1119.5Z"/><path d="M1242.5 341.5H1266.5V382.5H1242.5Z"/><path d="M943.5 262.5H1565.5V461.5H943.5Z"/><path d="M1026.5 59.5H1482.5V664.5H1026.5Z"/><path d="M1155.5 120.5H1353.5V603.5H1155.5Z"/><path d="M941.5 199.5H1567.5V524.5H941.5Z"/><path d="M1202.5 229.5H1306.5V494.5H1202.5Z"/><path d="M1126.5 224.5H1382.5V499.5H1126.5Z"/><path d="M944.5 261.5H1564.5V462.5H944.5Z"/><path d="M1220.5 52.5H1288.5V671.5H1220.5Z"/><path d="M941.5 241.5H1567.5V482.5H941.5Z"/><path d="M1205.5 344.5H1303.5V379.5H1205.5Z"/><path d="M1195.5 244.5H1313.5V479.5H1195.5Z"/><path d="M1211.5 50.5H1297.5V673.5H1211.5Z"/><path d="M1219.5 52.5H1289.5V671.5H1219.5Z"/><path d="M970.5 196.5H1538.5V527.5H970.5Z"/><path d="M1159.5 58.5H1349.5V665.5H1159.5Z"/><path d="M948.5 244.5H1560.5V479.5H948.5Z"/><path d="M1084.5 310.5H1424.5V413.5H1084.5Z"/><path d="M1189.5 267.5H1319.5V456.5H1189.5Z"/><path d="M1213.5 56.5H1295.5V667.5H1213.5Z"/><path d="M947.5 256.5H1561.5V467.5H947.5Z"/><path d="M1145.5 163.5H1363.5V560.5H1145.5Z"/><path d="M1194.5 52.5H1314.5V671.5H1194.5Z"/><path d="M1229.5 306.5H1279.5V417.5H1229.5Z"/><path d="M963.5 280.5H1545.5V443.5H963.5Z"/><path d="M1005.5 335.5H1503.5V388.5H1005.5Z"/><path d="M1010.5 317.5H1498.5V406.5H1010.5Z"/><path d="M1227.5 51.5H1281.5V672.5H1227.5Z"/><path d="M963.5 288.5H1545.5V435.5H963.5Z"/><path d="M1009.5 308.5H1499.5V415.5H1009.5Z"/><path d="M1214.5 53.5H1294.5V670.5H1214.5Z"/><path d="M1101.5 287.5H1407.5V436.5H1101.5Z"/><path d="M945.5 316.5H1563.5V407.5H945.5Z"/><path d="M1059.5 72.5H1449.5V651.5H1059.5Z"/><path d="M1229.5 56.5H1279.5V667.5H1229.5Z"/><path d="M1062.5 106.5H1446.5V617.5H1062.5Z"/><path d="M1134.5 156.5H1374.5V567.5H1134.5Z"/><path d="M1221.5 54.5H1287.5V669.5H1221.5Z"/><path d="M1145.5 90.5H1363.5V633.5H1145.5Z"/><path d="M1108.5 331.5H1400.5V392.5H1108.5Z"/><path d="M1017.5 295.5H1491.5V428.5H1017.5Z"/><path d="M1090.5 59.5H1418.5V664.5H1090.5Z"/><path d="M1216.5 296.5H1292.5V427.5H1216.5Z"/><path d="M1209.5 191.5H1299.5V532.5H1209.5Z"/><path d="M943.5 289.5H1565.5V434.5H943.5Z"/><path d="M1126.5 164.5H1382.5V559.5H1126.5Z"/><path d="M949.5 222.5H1559.5V501.5H949.5Z"/><path d="M1132.5 325.5H1376.5V398.5H1132.5Z"/><path d="M944.5 340.5H1564.5V383.5H944.5Z"/><path d="M1138.5 51.5H1370.5V672.5H1138.5Z"/><path d="M1179.5 317.5H1329.5V406.5H1179.5Z"/><path d="M943.5 267.5H1565.5V456.5H943.5Z"/><path d="M943.5 322.5H1565.5V401.5H943.5Z"/><path d="M943.5 276.5H1565.5V447.5H943.5Z"/><path d="M1156.5 119.5H1352.5V604.5H1156.5Z"/><path d="M975.5 332.5H1533.5V391.5H975.5Z"/><path d="M1089.5 79.5H1419.5V644.5H1089.5Z"/><path d="M1192.5 114.5H1316.5V609.5H1192.5Z"/><path d="M946.5 353.5H1562.5V370.5H946.5Z"/><path d="M943.5 308.5H1565.5V415.5H943.5Z"/><path d="M950.5 295.5H1558.5V428.5H950.5Z"/><path d="M1234.5 71.5H1274.5V652.5H1234.5Z"/><path d="M1216.5 218.5H1292.5V505.5H1216.5Z"/><path d="M1078.5 322.5H1430.5V401.5H1078.5Z"/><path d="M1227.5 348.5H1281.5V375.5H1227.5Z"/><path d="M1239.5 67.5H1269.5V656.5H1239.5Z"/><path d="M1172.5 60.5H1336.5V663.5H1172.5Z"/><path d="M1181.5 144.5H1327.5V579.5H1181.5Z"/><path d="M948.5 300.5H1560.5V423.5H948.5Z"/><path d="M1228.5 249.5H1280.5V474.5H1228.5Z"/><path d="M1082.5 63.5H1426.5V660.5H1082.5Z"/><path d="M1195.5 262.5H1313.5V461.5H1195.5Z"/><path d="M947.5 316.5H1561.5V407.5H947.5Z"/><path d="M1192.5 52.5H1316.5V671.5H1192.5Z"/><path d="M1222.5 299.5H1286.5V424.5H1222.5Z"/><path d="M1070.5 338.5H1438.5V385.5H1070.5Z"/><path d="M1136.5 287.5H1372.5V436.5H1136.5Z"/><path d="M1109.5 218.5H1399.5V505.5H1109.5Z"/><path d="M941.5 351.5H1567.5V372.5H941.5Z"/><path d="M1073.5 312.5H1435.5V411.5H1073.5Z"/><path d="M944.5 348.5H1564.5V375.5H944.5Z"/><path d="M949.5 246.5H1559.5V477.5H949.5Z"/><path d="M946.5 283.5H1562.5V440.5H946.5Z"/><path d="M1036.5 341.5H1472.5V382.5H1036.5Z"/><path d="M1179.5 236.5H1329.5V487.5H1179.5Z"/><path d="M944.5 334.5H1564.5V389.5H944.5Z"/><path d="M1124.5 297.5H1384.5V426.5H1124.5Z"/><path d="M1146.5 51.5H1362.5V672.5H1146.5Z"/><path d="M942.5 343.5H1566.5V380.5H942.5Z"/><path d="M1100.5 51.5H1408.5V672.5H1100.5Z"/><path d="M1037.5 212.5H1471.5V511.5H1037.5Z"/><path d="M1145.5 329.5H1363.5V394.5H1145.5Z"/><path d="M1210.5 88.5H1298.5V635.5H1210.5Z"/><path d="M1178.5 328.5H1330.5V395.5H1178.5Z"/><path d="M1152.5 71.5H1356.5V652.5H1152.5Z"/><path d="M1128.5 338.5H1380.5V385.5H1128.5Z"/><path d="M1179.5 57.5H1329.5V666.5H1179.5Z"/><path d="M1219.5 111.5H1289.5V612.5H1219.5Z"/><path d="M1227.5 52.5H1281.5V671.5H1227.5Z"/><path d="M1229.5 309.5H1279.5V414.5H1229.5Z"/><path d="M1162.5 346.5H1346.5V377.5H1162.5Z"/><path d="M953.5 261.5H1555.5V462.5H953.5Z"/><path d="M1014.5 309.5H1494.5V414.5H1014.5Z"/><path d="M1210.5 214.5H1298.5V509.5H1210.5Z"/><path d="M1190.5 199.5H1318.5V524.5H1190.5Z"/><path d="M1038.5 109.5H1470.5V614.5H1038.5Z"/><path d="M1144.5 58.5H1364.5V665.5H1144.5Z"/><path d="M1115.5 342.5H1393.5V381.5H1115.5Z"/><path d="M1214.5 61.5H1294.5V662.5H1214.5Z"/><path d="M1171.5 49.5H1337.5V674.5H1171.5Z"/><path d="M1037.5 219.5H1471.5V504.5H1037.5Z"/><path d="M1146.5 56.5H1362.5V667.5H1146.5Z"/><path d="M1138.5 60.5H1370.5V663.5H1138.5Z"/><path d="M977.5 292.5H1531.5V431.5H977.5Z"/><path d="M1182.5 50.5H1326.5V673.5H1182.5Z"/><path d="M1115.5 287.5H1393.5V436.5H1115.5Z"/><path d="M993.5 288.5H1515.5V435.5H993.5Z"/><path d="M943.5 260.5H1565.5V463.5H943.5Z"/><path d="M1068.5 352.5H1440.5V371.5H1068.5Z"/><path d="M946.5 289.5H1562.5V434.5H946.5Z"/><path d="M1082.5 105.5H1426.5V618.5H1082.5Z"/><path d="M1229.5 52.5H1279.5V671.5H1229.5Z"/><path d="M1195.5 306.5H1313.5V417.5H1195.5Z"/><path d="M1118.5 59.5H1390.5V664.5H1118.5Z"/><path d="M1229.5 312.5H1279.5V411.5H1229.5Z"/><path d="M946.5 288.5H1562.5V435.5H946.5Z"/><path d="M1094.5 51.5H1414.5V672.5H1094.5Z"/><path d="M1001.5 134.5H1507.5V589.5H1001.5Z"/><path d="M1001.5 217.5H1507.5V506.5H1001.5Z"/><path d="M1029.5 91.5H1479.5V632.5H1029.5Z"/><path d="M941.5 153.5H1567.5V570.5H941.5Z"/><path d="M1120.5 65.5H1388.5V658.5H1120.5Z"/><path d="M1078.5 106.5H1430.5V617.5H1078.5Z"/><path d="M1199.5 299.5H1309.5V424.5H1199.5Z"/><path d="M945.5 323.5H1563.5V400.5H945.5Z"/><path d="M1194.5 52.5H1314.5V671.5H1194.5Z"/><path d="M1073.5 81.5H1435.5V642.5H1073.5Z"/><path d="M1134.5 324.5H1374.5V399.5H1134.5Z"/><path d="M1157.5 56.5H1351.5V667.5H1157.5Z"/><path d="M979.5 170.5H1529.5V553.5H979.5Z"/><path d="M957.5 271.5H1551.5V452.5H957.5Z"/><path d="M1073.5 235.5H1435.5V488.5H1073.5Z"/><path d="M944.5 268.5H1564.5V455.5H944.5Z"/><path d="M1148.5 340.5H1360.5V383.5H1148.5Z"/><path d="M1100.5 66.5H1408.5V657.5H1100.5Z"/><path d="M1073.5 70.5H1435.5V653.5H1073.5Z"/><path d="M1120.5 61.5H1388.5V662.5H1120.5Z"/><path d="M1211.5 251.5H1297.5V472.5H1211.5Z"/><path d="M1229.5 59.5H1279.5V664.5H1229.5Z"/><path d="M945.5 258.5H1563.5V465.5H945.5Z"/><path d="M1209.5 167.5H1299.5V556.5H1209.5Z"/><path d="M1215.5 50.5H1293.5V673.5H1215.5Z"/><path d="M949.5 276.5H1559.5V447.5H949.5Z"/><path d="M996.5 319.5H1512.5V404.5H996.5Z"/><path d="M1163.5 48.5H1345.5V675.5H1163.5Z"/><path d="M1184.5 50.5H1324.5V673.5H1184.5Z"/><path d="M976.5 308.5H1532.5V415.5H976.5Z"/><path d="M1183.5 70.5H1325.5V653.5H1183.5Z"/><path d="M1169.5 52.5H1339.5V671.5H1169.5Z"/><path d="M959.5 321.5H1549.5V402.5H959.5Z"/><path d="M943.5 254.5H1565.5V469.5H943.5Z"/><path d="M1152.5 332.5H1356.5V391.5H1152.5Z"/><path d="M1160.5 251.5H1348.5V472.5H1160.5Z"/><path d="M1131.5 264.5H1377.5V459.5H1131.5Z"/><path d="M1232.5 258.5H1276.5V465.5H1232.5Z"/><path d="M1150.5 51.5H1358.5V672.5H1150.5Z"/><path d="M1137.5 65.5H1371.5V658.5H1137.5Z"/><path d="M1226.5 55.5H1282.5V668.5H1226.5Z"/><path d="M1228.5 268.5H1280.5V455.5H1228.5Z"/><path d="M950.5 198.5H1558.5V525.5H950.5Z"/><path d="M1102.5 345.5H1406.5V378.5H1102.5Z"/><path d="M1093.5 63.5H1415.5V660.5H1093.5Z"/><path d="M1025.5 114.5H1483.5V609.5H1025.5Z"/><path d="M1205.5 268.5H1303.5V455.5H1205.5Z"/><path d="M1139.5 50.5H1369.5V673.5H1139.5Z"/><path d="M950.5 268.5H1558.5V455.5H950.5Z"/><path d="M1124.5 49.5H1384.5V674.5H1124.5Z"/><path d="M955.5 239.5H1553.5V484.5H955.5Z"/><path d="M1157.5 60.5H1351.5V663.5H1157.5Z"/><path d="M1136.5 51.5H1372.5V672.5H1136.5Z"/><path d="M944.5 267.5H1564.5V456.5H944.5Z"/><path d="M953.5 259.5H1555.5V464.5H953.5Z"/><path d="M944.5 313.5H1564.5V410.5H944.5Z"/><path d="M966.5 242.5H1542.5V481.5H966.5Z"/><path d="M1119.5 103.5H1389.5V620.5H1119.5Z"/><path d="M1201.5 298.5H1307.5V425.5H1201.5Z"/><path d="M1232.5 280.5H1276.5V443.5H1232.5Z"/><path d="M956.5 275.5H1552.5V448.5H956.5Z"/><path d="M1119.5 81.5H1389.5V642.5H1119.5Z"/><path d="M1104.5 170.5H1404.5V553.5H1104.5Z"/><path d="M1194.5 79.5H1314.5V644.5H1194.5Z"/><path d="M943.5 328.5H1565.5V395.5H943.5Z"/><path d="M1080.5 306.5H1428.5V417.5H1080.5Z"/><path d="M1174.5 58.5H1334.5V665.5H1174.5Z"/><path d="M1195.5 353.5H1313.5V370.5H1195.5Z"/><path d="M1116.5 67.5H1392.5V656.5H1116.5Z"/><path d="M1214.5 54.5H1294.5V669.5H1214.5Z"/><path d="M1187.5 348.5H1321.5V375.5H1187.5Z"/><path d="M1233.5 54.5H1275.5V669.5H1233.5Z"/><path d="M1226.5 321.5H1282.5V402.5H1226.5Z"/><path d="M1114.5 79.5H1394.5V644.5H1114.5Z"/><path d="M1156.5 54.5H1352.5V669.5H1156.5Z"/><path d="M952.5 252.5H1556.5V471.5H952.5Z"/><path d="M1215.5 56.5H1293.5V667.5H1215.5Z"/><path d="M960.5 265.5H1548.5V458.5H960.5Z"/><path d="M961.5 301.5H1547.5V422.5H961.5Z"/><path d="M1180.5 179.5H1328.5V544.5H1180.5Z"/><path d="M1196.5 144.5H1312.5V579.5H1196.5Z"/><path d="M1132.5 302.5H1376.5V421.5H1132.5Z"/><path d="M1226.5 57.5H1282.5V666.5H1226.5Z"/><path d="M1227.5 240.5H1281.5V483.5H1227.5Z"/><path d="M1111.5 329.5H1397.5V394.5H1111.5Z"/><path d="M1157.5 226.5H1351.5V497.5H1157.5Z"/><path d="M1149.5 51.5H1359.5V672.5H1149.5Z"/><path d="M1134.5 344.5H1374.5V379.5H1134.5Z"/><path d="M1211.5 227.5H1297.5V496.5H1211.5Z"/><path d="M1039.5 59.5H1469.5V664.5H1039.5Z"/><path d="M1227.5 191.5H1281.5V532.5H1227.5Z"/><path d="M1176.5 326.5H1332.5V397.5H1176.5Z"/><path d="M945.5 341.5H1563.5V382.5H945.5Z"/><path d="M1080.5 333.5H1428.5V390.5H1080.5Z"/><path d="M1043.5 289.5H1465.5V434.5H1043.5Z"/><path d="M1181.5 65.5H1327.5V658.5H1181.5Z"/><path d="M1218.5 226.5H1290.5V497.5H1218.5Z"/><path d="M1236.5 317.5H1272.5V406.5H1236.5Z"/><path d="M951.5 304.5H1557.5V419.5H951.5Z"/><path d="M971.5 121.5H1537.5V602.5H971.5Z"/><path d="M1229.5 156.5H1279.5V567.5H1229.5Z"/><path d="M951.5 290.5H1557.5V433.5H951.5Z"/><path d="M1230.5 279.5H1278.5V444.5H1230.5Z"/><path d="M1214.5 308.5H1294.5V415.5H1214.5Z"/><path d="M1152.5 323.5H1356.5V400.5H1152.5Z"/><path d="M1047.5 309.5H1461.5V414.5H1047.5Z"/><path d="M1023.5 192.5H1485.5V531.5H1023.5Z"/><path d="M1193.5 51.5H1315.5V672.5H1193.5Z"/><path d="M952.5 319.5H1556.5V404.5H952.5Z"/><path d="M947.5 267.5H1561.5V456.5H947.5Z"/><path d="M950.5 288.5H1558.5V435.5H950.5Z"/><path d="M1113.5 77.5H1395.5V646.5H1113.5Z"/><path d="M1200.5 171.5H1308.5V552.5H1200.5Z"/><path d="M1062.5 325.5H1446.5V398.5H1062.5Z"/><path d="M1189.5 336.5H1319.5V387.5H1189.5Z"/><path d="M1126.5 163.5H1382.5V560.5H1126.5Z"/><path d="M1070.5 323.5H1438.5V400.5H1070.5Z"/><path d="M1129.5 63.5H1379.5V660.5H1129.5Z"/><path d="M1192.5 147.5H1316.5V576.5H1192.5Z"/><path d="M1211.5 237.5H1297.5V486.5H1211.5Z"/><path d="M1218.5 137.5H1290.5V586.5H1218.5Z"/><path d="M983.5 81.5H1525.5V642.5H983.5Z"/><path d="M1211.5 323.5H1297.5V400.5H1211.5Z"/><path d="M942.5 134.5H1566.5V589.5H942.5Z"/><path d="M955.5 255.5H1553.5V468.5H955.5Z"/><path d="M1192.5 313.5H1316.5V410.5H1192.5Z"/><path d="M1166.5 71.5H1342.5V652.5H1166.5Z"/><path d="M953.5 276.5H1555.5V447.5H953.5Z"/><path d="M1191.5 342.5H1317.5V381.5H1191.5Z"/><path d="M1194.5 50.5H1314.5V673.5H1194.5Z"/><path d="M1240.5 330.5H1268.5V393.5H1240.5Z"/><path d="M1191.5 343.5H1317.5V380.5H1191.5Z"/><path d="M1016.5 168.5H1492.5V555.5H1016.5Z"/><path d="M1005.5 270.5H1503.5V453.5H1005.5Z"/><path d="M1181.5 279.5H1327.5V444.5H1181.5Z"/><path d="M993.5 280.5H1515.5V443.5H993.5Z"/><path d="M1227.5 191.5H1281.5V532.5H1227.5Z"/><path d="M1190.5 90.5H1318.5V633.5H1190.5Z"/><path d="M998.5 308.5H1510.5V415.5H998.5Z"/><path d="M944.5 182.5H1564.5V541.5H944.5Z"/><path d="M1229.5 268.5H1279.5V455.5H1229.5Z"/><path d="M953.5 305.5H1555.5V418.5H953.5Z"/><path d="M1133.5 344.5H1375.5V379.5H1133.5Z"/><path d="M1112.5 338.5H1396.5V385.5H1112.5Z"/><path d="M941.5 291.5H1567.5V432.5H941.5Z"/><path d="M1065.5 56.5H1443.5V667.5H1065.5Z"/><path d="M1174.5 59.5H1334.5V664.5H1174.5Z"/><path d="M1184.5 56.5H1324.5V667.5H1184.5Z"/><path d="M973.5 288.5H1535.5V435.5H973.5Z"/><path d="M941.5 278.5H1567.5V445.5H941.5Z"/><path d="M1201.5 336.5H1307.5V387.5H1201.5Z"/><path d="M1226.5 219.5H1282.5V504.5H1226.5Z"/><path d="M1109.5 279.5H1399.5V444.5H1109.5Z"/><path d="M966.5 171.5H1542.5V552.5H966.5Z"/><path d="M955.5 315.5H1553.5V408.5H955.5Z"/><path d="M1142.5 353.5H1366.5V370.5H1142.5Z"/><path d="M1166.5 54.5H1342.5V669.5H1166.5Z"/><path d="M1145.5 68.5H1363.5V655.5H1145.5Z"/><path d="M953.5 278.5H1555.5V445.5H953.5Z"/><path d="M1061.5 104.5H1447.5V619.5H1061.5Z"/><path d="M950.5 289.5H1558.5V434.5H950.5Z"/><path d="M986.5 324.5H1522.5V399.5H986.5Z"/><path d="M1229.5 52.5H1279.5V671.5H1229.5Z"/><path d="M1187.5 52.5H1321.5V671.5H1187.5Z"/><path d="M1229.5 99.5H1279.5V624.5H1229.5Z"/><path d="M1183.5 56.5H1325.5V667.5H1183.5Z"/><path d="M1087.5 329.5H1421.5V394.5H1087.5Z"/><path d="M1059.5 171.5H1449.5V552.5H1059.5Z"/><path d="M990.5 326.5H1518.5V397.5H990.5Z"/><path d="M1095.5 71.5H1413.5V652.5H1095.5Z"/><path d="M1083.5 351.5H1425.5V372.5H1083.5Z"/><path d="M965.5 108.5H1543.5V615.5H965.5Z"/><path d="M1161.5 59.5H1347.5V664.5H1161.5Z"/><path d="M1181.5 56.5H1327.5V667.5H1181.5Z"/><path d="M976.5 308.5H1532.5V415.5H976.5Z"/><path d="M1231.5 280.5H1277.5V443.5H1231.5Z"/><path d="M1213.5 221.5H1295.5V502.5H1213.5Z"/><path d="M961.5 126.5H1547.5V597.5H961.5Z"/><path d="M967.5 303.5H1541.5V420.5H967.5Z"/><path d="M1189.5 185.5H1319.5V538.5H1189.5Z"/><path d="M963.5 240.5H1545.5V483.5H963.5Z"/><path d="M1220.5 284.5H1288.5V439.5H1220.5Z"/><path d="M1079.5 341.5H1429.5V382.5H1079.5Z"/><path d="M1136.5 53.5H1372.5V670.5H1136.5Z"/><path d="M1178.5 220.5H1330.5V503.5H1178.5Z"/><path d="M1116.5 73.5H1392.5V650.5H1116.5Z"/><path d="M943.5 321.5H1565.5V402.5H943.5Z"/><path d="M944.5 280.5H1564.5V443.5H944.5Z"/><path d="M1200.5 95.5H1308.5V628.5H1200.5Z"/><path d="M1240.5 106.5H1268.5V617.5H1240.5Z"/><path d="M1012.5 168.5H1496.5V555.5H1012.5Z"/><path d="M943.5 223.5H1565.5V500.5H943.5Z"/><path d="M1100.5 342.5H1408.5V381.5H1100.5Z"/><path d="M946.5 352.5H1562.5V371.5H946.5Z"/><path d="M951.5 219.5H1557.5V504.5H951.5Z"/><path d="M963.5 218.5H1545.5V505.5H963.5Z"/><path d="M950.5 183.5H1558.5V540.5H950.5Z"/><path d="M1184.5 66.5H1324.5V657.5H1184.5Z"/><path d="M1181.5 51.5H1327.5V672.5H1181.5Z"/><path d="M1121.5 353.5H1387.5V370.5H1121.5Z"/><path d="M1208.5 58.5H1300.5V665.5H1208.5Z"/><path d="M1150.5 58.5H1358.5V665.5H1150.5Z"/><path d="M1217.5 57.5H1291.5V666.5H1217.5Z"/><path d="M1203.5 348.5H1305.5V375.5H1203.5Z"/><path d="M1239.5 275.5H1269.5V448.5H1239.5Z"/><path d="M1182.5 335.5H1326.5V388.5H1182.5Z"/><path d="M1181.5 59.5H1327.5V664.5H1181.5Z"/><path d="M1050.5 305.5H1458.5V418.5H1050.5Z"/><path d="M1214.5 55.5H1294.5V668.5H1214.5Z"/><path d="M1195.5 336.5H1313.5V387.5H1195.5Z"/><path d="M944.5 273.5H1564.5V450.5H944.5Z"/><path d="M941.5 349.5H1567.5V374.5H941.5Z"/><path d="M944.5 320.5H1564.5V403.5H944.5Z"/><path d="M1049.5 282.5H1459.5V441.5H1049.5Z"/><path d="M1173.5 57.5H1335.5V666.5H1173.5Z"/><path d="M1199.5 202.5H1309.5V521.5H1199.5Z"/><path d="M1153.5 50.5H1355.5V673.5H1153.5Z"/><path d="M1175.5 87.5H1333.5V636.5H1175.5Z"/><path d="M1207.5 344.5H1301.5V379.5H1207.5Z"/><path d="M1130.5 337.5H1378.5V386.5H1130.5Z"/><path d="M1226.5 188.5H1282.5V535.5H1226.5Z"/><path d="M1179.5 178.5H1329.5V545.5H1179.5Z"/><path d="M952.5 300.5H1556.5V423.5H952.5Z"/><path d="M1167.5 48.5H1341.5V675.5H1167.5Z"/><path d="M958.5 172.5H1550.5V551.5H958.5Z"/><path d="M1089.5 340.5H1419.5V383.5H1089.5Z"/><path d="M1111.5 56.5H1397.5V667.5H1111.5Z"/><path d="M980.5 200.5H1528.5V523.5H980.5Z"/><path d="M1181.5 65.5H1327.5V658.5H1181.5Z"/><path d="M1189.5 355.5H1319.5V368.5H1189.5Z"/><path d="M1171.5 48.5H1337.5V675.5H1171.5Z"/><path d="M1233.5 280.5H1275.5V443.5H1233.5Z"/><path d="M944.5 219.5H1564.5V504.5H944.5Z"/><path d="M1234.5 52.5H1274.5V671.5H1234.5Z"/><path d="M1027.5 117.5H1481.5V606.5H1027.5Z"/><path d="M1004.5 108.5H1504.5V615.5H1004.5Z"/><path d="M1220.5 48.5H1288.5V675.5H1220.5Z"/><path d="M1198.5 248.5H1310.5V475.5H1198.5Z"/><path d="M1222.5 50.5H1286.5V673.5H1222.5Z"/><path d="M1147.5 59.5H1361.5V664.5H1147.5Z"/><path d="M1175.5 346.5H1333.5V377.5H1175.5Z"/><path d="M1183.5 295.5H1325.5V428.5H1183.5Z"/><path d="M1194.5 97.5H1314.5V626.5H1194.5Z"/><path d="M1102.5 66.5H1406.5V657.5H1102.5Z"/><path d="M1227.5 212.5H1281.5V511.5H1227.5Z"/><path d="M1141.5 88.5H1367.5V635.5H1141.5Z"/><path d="M1069.5 341.5H1439.5V382.5H1069.5Z"/><path d="M1106.5 340.5H1402.5V383.5H1106.5Z"/><path d="M1221.5 95.5H1287.5V628.5H1221.5Z"/><path d="M1194.5 52.5H1314.5V671.5H1194.5Z"/><path d="M947.5 305.5H1561.5V418.5H947.5Z"/><path d="M944.5 326.5H1564.5V397.5H944.5Z"/><path d="M1236.5 212.5H1272.5V511.5H1236.5Z"/><path d="M1229.5 52.5H1279.5V671.5H1229.5Z"/><path d="M965.5 293.5H1543.5V430.5H965.5Z"/><path d="M1124.5 277.5H1384.5V446.5H1124.5Z"/><path d="M1231.5 267.5H1277.5V456.5H1231.5Z"/><path d="M1226.5 209.5H1282.5V514.5H1226.5Z"/><path d="M949.5 239.5H1559.5V484.5H949.5Z"/><path d="M1217.5 335.5H1291.5V388.5H1217.5Z"/><path d="M944.5 279.5H1564.5V444.5H944.5Z"/><path d="M1073.5 221.5H1435.5V502.5H1073.5Z"/><path d="M1108.5 52.5H1400.5V671.5H1108.5Z"/><path d="M1190.5 348.5H1318.5V375.5H1190.5Z"/><path d="M943.5 290.5H1565.5V433.5H943.5Z"/><path d="M1175.5 65.5H1333.5V658.5H1175.5Z"/><path d="M1220.5 161.5H1288.5V562.5H1220.5Z"/><path d="M944.5 312.5H1564.5V411.5H944.5Z"/><path d="M979.5 284.5H1529.5V439.5H979.5Z"/><path d="M1217.5 327.5H1291.5V396.5H1217.5Z"/><path d="M962.5 320.5H1546.5V403.5H962.5Z"/><path d="M1155.5 56.5H1353.5V667.5H1155.5Z"/><path d="M953.5 256.5H1555.5V467.5H953.5Z"/><path d="M943.5 270.5H1565.5V453.5H943.5Z"/><path d="M1212.5 77.5H1296.5V646.5H1212.5Z"/><path d="M944.5 261.5H1564.5V462.5H944.5Z"/><path d="M1078.5 260.5H1430.5V463.5H1078.5Z"/><path d="M1183.5 138.5H1325.5V585.5H1183.5Z"/><path d="M1110.5 54.5H1398.5V669.5H1110.5Z"/><path d="M974.5 322.5H1534.5V401.5H974.5Z"/><path d="M969.5 118.5H1539.5V605.5H969.5Z"/><path d="M1091.5 189.5H1417.5V534.5H1091.5Z"/><path d="M950.5 252.5H1558.5V471.5H950.5Z"/><path d="M950.5 270.5H1558.5V453.5H950.5Z"/><path d="M1119.5 52.5H1389.5V671.5H1119.5Z"/><path d="M1070.5 65.5H1438.5V658.5H1070.5Z"/><path d="M1190.5 59.5H1318.5V664.5H1190.5Z"/></g>
</svg>
</body></html>
